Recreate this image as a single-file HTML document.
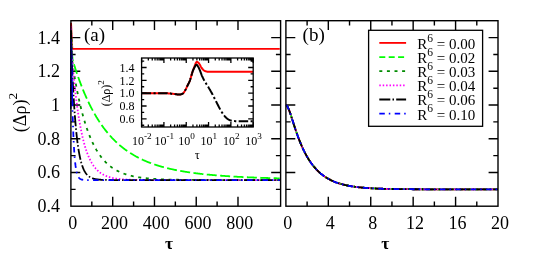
<!DOCTYPE html>
<html><head><meta charset="utf-8"><title>chart</title>
<style>html,body{margin:0;padding:0;background:#fff;}body{width:545px;height:260px;overflow:hidden;font-family:"Liberation Serif",serif;}svg{display:block;will-change:transform;}</style></head>
<body>
<svg width="545" height="260" viewBox="0 0 545 260" font-family='"Liberation Serif", serif' fill="#000">
<rect x="0" y="0" width="545" height="260" fill="#fff"/>
<defs>
<clipPath id="ca"><rect x="70.15" y="20.7" width="210.45000000000002" height="185.5"/></clipPath>
<clipPath id="cb"><rect x="285.9" y="20.7" width="212.10000000000002" height="185.5"/></clipPath>
<clipPath id="ci"><rect x="141.6" y="58.0" width="111.6" height="69.0"/></clipPath>
</defs>
<path d="M112.71 206.2 v-9.4 M112.71 20.7 v9.4 M154.47 206.2 v-9.4 M154.47 20.7 v9.4 M196.23 206.2 v-9.4 M196.23 20.7 v9.4 M237.99 206.2 v-9.4 M237.99 20.7 v9.4 M91.83 206.2 v-4.7 M91.83 20.7 v4.7 M133.59 206.2 v-4.7 M133.59 20.7 v4.7 M175.35 206.2 v-4.7 M175.35 20.7 v4.7 M217.11 206.2 v-4.7 M217.11 20.7 v4.7 M70.9 189.34 h4.7 M280.6 189.34 h-4.7 M70.9 172.48 h9.4 M280.6 172.48 h-9.4 M70.9 155.62 h4.7 M280.6 155.62 h-4.7 M70.9 138.76 h9.4 M280.6 138.76 h-9.4 M70.9 121.90 h4.7 M280.6 121.90 h-4.7 M70.9 105.04 h9.4 M280.6 105.04 h-9.4 M70.9 88.18 h4.7 M280.6 88.18 h-4.7 M70.9 71.32 h9.4 M280.6 71.32 h-9.4 M70.9 54.46 h4.7 M280.6 54.46 h-4.7 M70.9 37.60 h9.4 M280.6 37.60 h-9.4 " fill="none" stroke="#000" stroke-width="1.4"/>
<path d="M328.32 206.2 v-9.4 M328.32 20.7 v9.4 M370.74 206.2 v-9.4 M370.74 20.7 v9.4 M413.16 206.2 v-9.4 M413.16 20.7 v9.4 M455.58 206.2 v-9.4 M455.58 20.7 v9.4 M307.11 206.2 v-4.7 M307.11 20.7 v4.7 M349.53 206.2 v-4.7 M349.53 20.7 v4.7 M391.95 206.2 v-4.7 M391.95 20.7 v4.7 M434.37 206.2 v-4.7 M434.37 20.7 v4.7 M476.79 206.2 v-4.7 M476.79 20.7 v4.7 M285.9 189.34 h4.7 M498.0 189.34 h-4.7 M285.9 172.48 h9.4 M498.0 172.48 h-9.4 M285.9 155.62 h4.7 M498.0 155.62 h-4.7 M285.9 138.76 h9.4 M498.0 138.76 h-9.4 M285.9 121.90 h4.7 M498.0 121.90 h-4.7 M285.9 105.04 h9.4 M498.0 105.04 h-9.4 M285.9 88.18 h4.7 M498.0 88.18 h-4.7 M285.9 71.32 h9.4 M498.0 71.32 h-9.4 M285.9 54.46 h4.7 M498.0 54.46 h-4.7 M285.9 37.60 h9.4 M498.0 37.60 h-9.4 " fill="none" stroke="#000" stroke-width="1.4"/>
<g clip-path="url(#ca)" fill="none" stroke-width="1.8">
<path d="M70.15 105.04 L70.15 105.04 L70.15 105.04 L70.15 105.04 L70.15 105.04 L70.15 105.04 L70.15 105.04 L70.15 105.04 L70.15 105.04 L70.15 105.04 L70.15 105.04 L70.15 105.04 L70.15 105.04 L70.15 105.04 L70.15 105.04 L70.15 105.04 L70.16 105.04 L70.16 105.04 L70.16 105.04 L70.16 105.04 L70.16 105.04 L70.16 105.04 L70.16 105.04 L70.16 105.04 L70.16 105.04 L70.16 105.04 L70.16 105.04 L70.16 105.04 L70.16 105.04 L70.16 105.04 L70.16 105.04 L70.16 105.04 L70.16 105.04 L70.17 105.05 L70.17 105.07 L70.17 105.08 L70.17 105.10 L70.17 105.12 L70.17 105.15 L70.17 105.18 L70.17 105.21 L70.18 105.25 L70.18 105.31 L70.18 105.39 L70.18 105.48 L70.18 105.59 L70.18 105.71 L70.19 105.84 L70.19 105.98 L70.19 106.12 L70.19 106.27 L70.20 106.42 L70.20 106.57 L70.20 106.72 L70.21 106.88 L70.21 107.08 L70.22 107.31 L70.22 107.56 L70.22 107.81 L70.23 108.05 L70.24 108.27 L70.24 108.46 L70.25 108.61 L70.25 108.71 L70.26 108.75 L70.27 108.64 L70.28 108.35 L70.29 107.88 L70.29 107.27 L70.31 106.54 L70.32 105.68 L70.33 103.99 L70.34 101.64 L70.35 99.18 L70.37 96.41 L70.38 93.36 L70.40 90.13 L70.42 86.83 L70.44 83.56 L70.46 80.40 L70.48 77.17 L70.51 73.55 L70.53 69.20 L70.56 64.10 L70.59 58.65 L70.63 53.23 L70.66 48.27 L70.70 43.74 L70.75 39.41 L70.79 35.24 L70.84 31.20 L70.89 26.98 L70.95 24.41 L71.01 23.03 L71.08 23.26 L71.15 24.35 L71.22 25.83 L71.30 27.84 L71.38 30.09 L71.47 32.88 L71.57 35.89 L71.66 38.69 L71.76 40.87 L71.87 42.57 L71.98 44.11 L72.09 45.43 L72.21 46.44 L72.32 47.09 L72.44 47.63 L72.56 48.09 L72.69 48.44 L72.82 48.67 L72.95 48.74 L73.08 48.78 L73.23 48.81 L73.37 48.84 L73.53 48.86 L73.70 48.88 L73.87 48.89 L74.06 48.89 L74.26 48.90 L74.29 48.90 L74.70 48.90 L75.11 48.90 L75.53 48.90 L75.94 48.90 L76.35 48.90 L76.76 48.90 L77.17 48.90 L77.58 48.90 L78.00 48.90 L78.41 48.90 L78.82 48.90 L79.23 48.90 L79.64 48.90 L80.06 48.90 L80.47 48.90 L80.88 48.90 L81.29 48.90 L81.70 48.90 L82.11 48.90 L82.53 48.90 L82.94 48.90 L83.35 48.90 L83.76 48.90 L84.17 48.90 L84.58 48.90 L85.00 48.90 L85.41 48.90 L85.82 48.90 L86.23 48.90 L86.64 48.90 L87.05 48.90 L87.47 48.90 L87.88 48.90 L88.29 48.90 L88.70 48.90 L89.11 48.90 L89.53 48.90 L89.94 48.90 L90.35 48.90 L90.76 48.90 L91.17 48.90 L91.58 48.90 L92.00 48.90 L92.41 48.90 L92.82 48.90 L93.23 48.90 L93.64 48.90 L94.05 48.90 L94.47 48.90 L94.88 48.90 L95.29 48.90 L95.70 48.90 L96.11 48.90 L96.52 48.90 L96.94 48.90 L97.35 48.90 L97.76 48.90 L98.17 48.90 L98.58 48.90 L99.00 48.90 L99.41 48.90 L99.82 48.90 L100.23 48.90 L100.64 48.90 L101.05 48.90 L101.47 48.90 L101.88 48.90 L102.29 48.90 L102.70 48.90 L103.11 48.90 L103.52 48.90 L103.94 48.90 L104.35 48.90 L104.76 48.90 L105.17 48.90 L105.58 48.90 L105.99 48.90 L106.41 48.90 L106.82 48.90 L107.23 48.90 L107.64 48.90 L108.05 48.90 L108.47 48.90 L108.88 48.90 L109.29 48.90 L109.70 48.90 L110.11 48.90 L110.52 48.90 L110.94 48.90 L111.35 48.90 L111.76 48.90 L112.17 48.90 L112.58 48.90 L112.99 48.90 L113.41 48.90 L113.82 48.90 L114.23 48.90 L114.64 48.90 L115.05 48.90 L115.46 48.90 L115.88 48.90 L116.29 48.90 L116.70 48.90 L117.11 48.90 L117.52 48.90 L117.94 48.90 L118.35 48.90 L118.76 48.90 L119.17 48.90 L119.58 48.90 L119.99 48.90 L120.41 48.90 L120.82 48.90 L121.23 48.90 L121.64 48.90 L122.05 48.90 L122.46 48.90 L122.88 48.90 L123.29 48.90 L123.70 48.90 L124.11 48.90 L124.52 48.90 L124.94 48.90 L125.35 48.90 L125.76 48.90 L126.17 48.90 L126.58 48.90 L126.99 48.90 L127.41 48.90 L127.82 48.90 L128.23 48.90 L128.64 48.90 L129.05 48.90 L129.46 48.90 L129.88 48.90 L130.29 48.90 L130.70 48.90 L131.11 48.90 L131.52 48.90 L131.93 48.90 L132.35 48.90 L132.76 48.90 L133.17 48.90 L133.58 48.90 L133.99 48.90 L134.41 48.90 L134.82 48.90 L135.23 48.90 L135.64 48.90 L136.05 48.90 L136.46 48.90 L136.88 48.90 L137.29 48.90 L137.70 48.90 L138.11 48.90 L138.52 48.90 L138.93 48.90 L139.35 48.90 L139.76 48.90 L140.17 48.90 L140.58 48.90 L140.99 48.90 L141.40 48.90 L141.82 48.90 L142.23 48.90 L142.64 48.90 L143.05 48.90 L143.46 48.90 L143.88 48.90 L144.29 48.90 L144.70 48.90 L145.11 48.90 L145.52 48.90 L145.93 48.90 L146.35 48.90 L146.76 48.90 L147.17 48.90 L147.58 48.90 L147.99 48.90 L148.40 48.90 L148.82 48.90 L149.23 48.90 L149.64 48.90 L150.05 48.90 L150.46 48.90 L150.87 48.90 L151.29 48.90 L151.70 48.90 L152.11 48.90 L152.52 48.90 L152.93 48.90 L153.35 48.90 L153.76 48.90 L154.17 48.90 L154.58 48.90 L154.99 48.90 L155.40 48.90 L155.82 48.90 L156.23 48.90 L156.64 48.90 L157.05 48.90 L157.46 48.90 L157.87 48.90 L158.29 48.90 L158.70 48.90 L159.11 48.90 L159.52 48.90 L159.93 48.90 L160.34 48.90 L160.76 48.90 L161.17 48.90 L161.58 48.90 L161.99 48.90 L162.40 48.90 L162.82 48.90 L163.23 48.90 L163.64 48.90 L164.05 48.90 L164.46 48.90 L164.87 48.90 L165.29 48.90 L165.70 48.90 L166.11 48.90 L166.52 48.90 L166.93 48.90 L167.34 48.90 L167.76 48.90 L168.17 48.90 L168.58 48.90 L168.99 48.90 L169.40 48.90 L169.81 48.90 L170.23 48.90 L170.64 48.90 L171.05 48.90 L171.46 48.90 L171.87 48.90 L172.29 48.90 L172.70 48.90 L173.11 48.90 L173.52 48.90 L173.93 48.90 L174.34 48.90 L174.76 48.90 L175.17 48.90 L175.58 48.90 L175.99 48.90 L176.40 48.90 L176.81 48.90 L177.23 48.90 L177.64 48.90 L178.05 48.90 L178.46 48.90 L178.87 48.90 L179.28 48.90 L179.70 48.90 L180.11 48.90 L180.52 48.90 L180.93 48.90 L181.34 48.90 L181.76 48.90 L182.17 48.90 L182.58 48.90 L182.99 48.90 L183.40 48.90 L183.81 48.90 L184.23 48.90 L184.64 48.90 L185.05 48.90 L185.46 48.90 L185.87 48.90 L186.28 48.90 L186.70 48.90 L187.11 48.90 L187.52 48.90 L187.93 48.90 L188.34 48.90 L188.76 48.90 L189.17 48.90 L189.58 48.90 L189.99 48.90 L190.40 48.90 L190.81 48.90 L191.23 48.90 L191.64 48.90 L192.05 48.90 L192.46 48.90 L192.87 48.90 L193.28 48.90 L193.70 48.90 L194.11 48.90 L194.52 48.90 L194.93 48.90 L195.34 48.90 L195.75 48.90 L196.17 48.90 L196.58 48.90 L196.99 48.90 L197.40 48.90 L197.81 48.90 L198.23 48.90 L198.64 48.90 L199.05 48.90 L199.46 48.90 L199.87 48.90 L200.28 48.90 L200.70 48.90 L201.11 48.90 L201.52 48.90 L201.93 48.90 L202.34 48.90 L202.75 48.90 L203.17 48.90 L203.58 48.90 L203.99 48.90 L204.40 48.90 L204.81 48.90 L205.22 48.90 L205.64 48.90 L206.05 48.90 L206.46 48.90 L206.87 48.90 L207.28 48.90 L207.70 48.90 L208.11 48.90 L208.52 48.90 L208.93 48.90 L209.34 48.90 L209.75 48.90 L210.17 48.90 L210.58 48.90 L210.99 48.90 L211.40 48.90 L211.81 48.90 L212.22 48.90 L212.64 48.90 L213.05 48.90 L213.46 48.90 L213.87 48.90 L214.28 48.90 L214.69 48.90 L215.11 48.90 L215.52 48.90 L215.93 48.90 L216.34 48.90 L216.75 48.90 L217.17 48.90 L217.58 48.90 L217.99 48.90 L218.40 48.90 L218.81 48.90 L219.22 48.90 L219.64 48.90 L220.05 48.90 L220.46 48.90 L220.87 48.90 L221.28 48.90 L221.69 48.90 L222.11 48.90 L222.52 48.90 L222.93 48.90 L223.34 48.90 L223.75 48.90 L224.16 48.90 L224.58 48.90 L224.99 48.90 L225.40 48.90 L225.81 48.90 L226.22 48.90 L226.64 48.90 L227.05 48.90 L227.46 48.90 L227.87 48.90 L228.28 48.90 L228.69 48.90 L229.11 48.90 L229.52 48.90 L229.93 48.90 L230.34 48.90 L230.75 48.90 L231.16 48.90 L231.58 48.90 L231.99 48.90 L232.40 48.90 L232.81 48.90 L233.22 48.90 L233.63 48.90 L234.05 48.90 L234.46 48.90 L234.87 48.90 L235.28 48.90 L235.69 48.90 L236.11 48.90 L236.52 48.90 L236.93 48.90 L237.34 48.90 L237.75 48.90 L238.16 48.90 L238.58 48.90 L238.99 48.90 L239.40 48.90 L239.81 48.90 L240.22 48.90 L240.63 48.90 L241.05 48.90 L241.46 48.90 L241.87 48.90 L242.28 48.90 L242.69 48.90 L243.10 48.90 L243.52 48.90 L243.93 48.90 L244.34 48.90 L244.75 48.90 L245.16 48.90 L245.58 48.90 L245.99 48.90 L246.40 48.90 L246.81 48.90 L247.22 48.90 L247.63 48.90 L248.05 48.90 L248.46 48.90 L248.87 48.90 L249.28 48.90 L249.69 48.90 L250.10 48.90 L250.52 48.90 L250.93 48.90 L251.34 48.90 L251.75 48.90 L252.16 48.90 L252.58 48.90 L252.99 48.90 L253.40 48.90 L253.81 48.90 L254.22 48.90 L254.63 48.90 L255.05 48.90 L255.46 48.90 L255.87 48.90 L256.28 48.90 L256.69 48.90 L257.10 48.90 L257.52 48.90 L257.93 48.90 L258.34 48.90 L258.75 48.90 L259.16 48.90 L259.57 48.90 L259.99 48.90 L260.40 48.90 L260.81 48.90 L261.22 48.90 L261.63 48.90 L262.05 48.90 L262.46 48.90 L262.87 48.90 L263.28 48.90 L263.69 48.90 L264.10 48.90 L264.52 48.90 L264.93 48.90 L265.34 48.90 L265.75 48.90 L266.16 48.90 L266.57 48.90 L266.99 48.90 L267.40 48.90 L267.81 48.90 L268.22 48.90 L268.63 48.90 L269.04 48.90 L269.46 48.90 L269.87 48.90 L270.28 48.90 L270.69 48.90 L271.10 48.90 L271.52 48.90 L271.93 48.90 L272.34 48.90 L272.75 48.90 L273.16 48.90 L273.57 48.90 L273.99 48.90 L274.40 48.90 L274.81 48.90 L275.22 48.90 L275.63 48.90 L276.04 48.90 L276.46 48.90 L276.87 48.90 L277.28 48.90 L277.69 48.90 L278.10 48.90 L278.51 48.90 L278.93 48.90 L279.34 48.90 L279.75 48.90" stroke="#ff0000"/>
<path d="M70.15 105.04 L70.15 105.05 L70.15 105.05 L70.15 105.05 L70.15 105.05 L70.15 105.05 L70.15 105.05 L70.15 105.05 L70.15 105.06 L70.15 105.06 L70.15 105.06 L70.15 105.06 L70.15 105.06 L70.15 105.06 L70.15 105.06 L70.15 105.06 L70.16 105.07 L70.16 105.07 L70.16 105.07 L70.16 105.07 L70.16 105.07 L70.16 105.07 L70.16 105.08 L70.16 105.08 L70.16 105.08 L70.16 105.08 L70.16 105.09 L70.16 105.09 L70.16 105.09 L70.16 105.10 L70.16 105.10 L70.16 105.10 L70.16 105.11 L70.17 105.12 L70.17 105.14 L70.17 105.16 L70.17 105.19 L70.17 105.22 L70.17 105.25 L70.17 105.28 L70.17 105.32 L70.18 105.37 L70.18 105.43 L70.18 105.52 L70.18 105.62 L70.18 105.74 L70.18 105.87 L70.19 106.01 L70.19 106.16 L70.19 106.32 L70.19 106.48 L70.20 106.64 L70.20 106.80 L70.20 106.96 L70.21 107.14 L70.21 107.36 L70.22 107.60 L70.22 107.86 L70.22 108.13 L70.23 108.39 L70.24 108.63 L70.24 108.85 L70.25 109.03 L70.25 109.15 L70.26 109.21 L70.27 109.14 L70.28 108.87 L70.29 108.45 L70.29 107.87 L70.31 107.19 L70.32 106.38 L70.33 104.74 L70.34 102.47 L70.35 100.09 L70.37 97.41 L70.38 94.45 L70.40 91.33 L70.42 88.15 L70.44 85.02 L70.46 82.00 L70.48 78.91 L70.51 75.47 L70.53 71.32 L70.56 66.45 L70.59 61.25 L70.63 56.12 L70.66 51.44 L70.70 47.22 L70.75 43.20 L70.79 39.37 L70.84 35.70 L70.89 31.86 L70.95 29.65 L71.01 28.62 L71.08 29.15 L71.15 30.52 L71.22 32.27 L71.30 34.53 L71.38 37.04 L71.47 40.05 L71.57 43.28 L71.66 46.30 L71.76 48.73 L71.87 50.72 L71.98 52.57 L72.09 54.20 L72.21 55.56 L72.32 56.59 L72.44 57.52 L72.56 58.39 L72.69 59.17 L72.82 59.85 L72.95 60.40 L73.08 60.94 L73.23 61.49 L73.37 62.05 L73.53 62.63 L73.70 63.22 L73.87 63.84 L74.06 64.48 L74.26 65.14 L74.29 65.25 L74.70 66.59 L75.11 67.89 L75.53 69.17 L75.94 70.44 L76.35 71.68 L76.76 72.91 L77.17 74.12 L77.58 75.31 L78.00 76.49 L78.41 77.66 L78.82 78.81 L79.23 79.95 L79.64 81.08 L80.06 82.19 L80.47 83.29 L80.88 84.37 L81.29 85.44 L81.70 86.50 L82.11 87.54 L82.53 88.58 L82.94 89.60 L83.35 90.60 L83.76 91.60 L84.17 92.58 L84.58 93.55 L85.00 94.51 L85.41 95.46 L85.82 96.40 L86.23 97.32 L86.64 98.24 L87.05 99.14 L87.47 100.03 L87.88 100.92 L88.29 101.79 L88.70 102.65 L89.11 103.50 L89.53 104.34 L89.94 105.17 L90.35 105.99 L90.76 106.80 L91.17 107.60 L91.58 108.39 L92.00 109.17 L92.41 109.94 L92.82 110.71 L93.23 111.46 L93.64 112.21 L94.05 112.94 L94.47 113.67 L94.88 114.39 L95.29 115.10 L95.70 115.80 L96.11 116.49 L96.52 117.18 L96.94 117.85 L97.35 118.52 L97.76 119.18 L98.17 119.84 L98.58 120.48 L99.00 121.12 L99.41 121.75 L99.82 122.37 L100.23 122.99 L100.64 123.60 L101.05 124.20 L101.47 124.79 L101.88 125.38 L102.29 125.96 L102.70 126.53 L103.11 127.10 L103.52 127.66 L103.94 128.21 L104.35 128.76 L104.76 129.30 L105.17 129.83 L105.58 130.36 L105.99 130.88 L106.41 131.40 L106.82 131.91 L107.23 132.41 L107.64 132.91 L108.05 133.40 L108.47 133.89 L108.88 134.37 L109.29 134.84 L109.70 135.31 L110.11 135.77 L110.52 136.23 L110.94 136.69 L111.35 137.13 L111.76 137.58 L112.17 138.01 L112.58 138.45 L112.99 138.87 L113.41 139.30 L113.82 139.71 L114.23 140.13 L114.64 140.54 L115.05 140.94 L115.46 141.34 L115.88 141.73 L116.29 142.12 L116.70 142.51 L117.11 142.89 L117.52 143.27 L117.94 143.64 L118.35 144.01 L118.76 144.37 L119.17 144.73 L119.58 145.08 L119.99 145.44 L120.41 145.78 L120.82 146.13 L121.23 146.47 L121.64 146.80 L122.05 147.13 L122.46 147.46 L122.88 147.79 L123.29 148.11 L123.70 148.43 L124.11 148.74 L124.52 149.05 L124.94 149.36 L125.35 149.66 L125.76 149.96 L126.17 150.26 L126.58 150.55 L126.99 150.84 L127.41 151.12 L127.82 151.41 L128.23 151.69 L128.64 151.96 L129.05 152.24 L129.46 152.51 L129.88 152.78 L130.29 153.04 L130.70 153.30 L131.11 153.56 L131.52 153.82 L131.93 154.07 L132.35 154.32 L132.76 154.57 L133.17 154.82 L133.58 155.06 L133.99 155.30 L134.41 155.53 L134.82 155.77 L135.23 156.00 L135.64 156.23 L136.05 156.46 L136.46 156.68 L136.88 156.90 L137.29 157.12 L137.70 157.34 L138.11 157.55 L138.52 157.77 L138.93 157.98 L139.35 158.18 L139.76 158.39 L140.17 158.59 L140.58 158.79 L140.99 158.99 L141.40 159.19 L141.82 159.38 L142.23 159.58 L142.64 159.77 L143.05 159.95 L143.46 160.14 L143.88 160.32 L144.29 160.51 L144.70 160.69 L145.11 160.87 L145.52 161.04 L145.93 161.22 L146.35 161.39 L146.76 161.56 L147.17 161.73 L147.58 161.90 L147.99 162.06 L148.40 162.23 L148.82 162.39 L149.23 162.55 L149.64 162.71 L150.05 162.86 L150.46 163.02 L150.87 163.17 L151.29 163.32 L151.70 163.47 L152.11 163.62 L152.52 163.77 L152.93 163.92 L153.35 164.06 L153.76 164.20 L154.17 164.34 L154.58 164.48 L154.99 164.62 L155.40 164.76 L155.82 164.89 L156.23 165.03 L156.64 165.16 L157.05 165.29 L157.46 165.42 L157.87 165.55 L158.29 165.68 L158.70 165.80 L159.11 165.93 L159.52 166.05 L159.93 166.17 L160.34 166.29 L160.76 166.41 L161.17 166.53 L161.58 166.65 L161.99 166.77 L162.40 166.88 L162.82 166.99 L163.23 167.11 L163.64 167.22 L164.05 167.33 L164.46 167.44 L164.87 167.54 L165.29 167.65 L165.70 167.76 L166.11 167.86 L166.52 167.97 L166.93 168.07 L167.34 168.17 L167.76 168.27 L168.17 168.37 L168.58 168.47 L168.99 168.57 L169.40 168.66 L169.81 168.76 L170.23 168.85 L170.64 168.95 L171.05 169.04 L171.46 169.13 L171.87 169.22 L172.29 169.31 L172.70 169.40 L173.11 169.49 L173.52 169.58 L173.93 169.66 L174.34 169.75 L174.76 169.83 L175.17 169.92 L175.58 170.00 L175.99 170.08 L176.40 170.17 L176.81 170.25 L177.23 170.33 L177.64 170.41 L178.05 170.49 L178.46 170.56 L178.87 170.64 L179.28 170.72 L179.70 170.79 L180.11 170.87 L180.52 170.94 L180.93 171.01 L181.34 171.09 L181.76 171.16 L182.17 171.23 L182.58 171.30 L182.99 171.37 L183.40 171.44 L183.81 171.51 L184.23 171.58 L184.64 171.64 L185.05 171.71 L185.46 171.78 L185.87 171.84 L186.28 171.91 L186.70 171.97 L187.11 172.04 L187.52 172.10 L187.93 172.16 L188.34 172.22 L188.76 172.28 L189.17 172.35 L189.58 172.41 L189.99 172.46 L190.40 172.52 L190.81 172.58 L191.23 172.64 L191.64 172.70 L192.05 172.75 L192.46 172.81 L192.87 172.87 L193.28 172.92 L193.70 172.98 L194.11 173.03 L194.52 173.09 L194.93 173.14 L195.34 173.19 L195.75 173.24 L196.17 173.30 L196.58 173.35 L196.99 173.40 L197.40 173.45 L197.81 173.50 L198.23 173.55 L198.64 173.60 L199.05 173.65 L199.46 173.70 L199.87 173.74 L200.28 173.79 L200.70 173.84 L201.11 173.88 L201.52 173.93 L201.93 173.98 L202.34 174.02 L202.75 174.07 L203.17 174.11 L203.58 174.16 L203.99 174.20 L204.40 174.24 L204.81 174.29 L205.22 174.33 L205.64 174.37 L206.05 174.41 L206.46 174.45 L206.87 174.50 L207.28 174.54 L207.70 174.58 L208.11 174.62 L208.52 174.66 L208.93 174.70 L209.34 174.74 L209.75 174.77 L210.17 174.81 L210.58 174.85 L210.99 174.89 L211.40 174.93 L211.81 174.96 L212.22 175.00 L212.64 175.04 L213.05 175.07 L213.46 175.11 L213.87 175.14 L214.28 175.18 L214.69 175.21 L215.11 175.25 L215.52 175.28 L215.93 175.32 L216.34 175.35 L216.75 175.39 L217.17 175.42 L217.58 175.45 L217.99 175.48 L218.40 175.52 L218.81 175.55 L219.22 175.58 L219.64 175.61 L220.05 175.64 L220.46 175.67 L220.87 175.71 L221.28 175.74 L221.69 175.77 L222.11 175.80 L222.52 175.83 L222.93 175.86 L223.34 175.89 L223.75 175.91 L224.16 175.94 L224.58 175.97 L224.99 176.00 L225.40 176.03 L225.81 176.06 L226.22 176.08 L226.64 176.11 L227.05 176.14 L227.46 176.17 L227.87 176.19 L228.28 176.22 L228.69 176.25 L229.11 176.27 L229.52 176.30 L229.93 176.32 L230.34 176.35 L230.75 176.38 L231.16 176.40 L231.58 176.43 L231.99 176.45 L232.40 176.48 L232.81 176.50 L233.22 176.52 L233.63 176.55 L234.05 176.57 L234.46 176.60 L234.87 176.62 L235.28 176.64 L235.69 176.67 L236.11 176.69 L236.52 176.71 L236.93 176.73 L237.34 176.76 L237.75 176.78 L238.16 176.80 L238.58 176.82 L238.99 176.84 L239.40 176.86 L239.81 176.89 L240.22 176.91 L240.63 176.93 L241.05 176.95 L241.46 176.97 L241.87 176.99 L242.28 177.01 L242.69 177.03 L243.10 177.05 L243.52 177.07 L243.93 177.09 L244.34 177.11 L244.75 177.13 L245.16 177.15 L245.58 177.17 L245.99 177.19 L246.40 177.21 L246.81 177.23 L247.22 177.24 L247.63 177.26 L248.05 177.28 L248.46 177.30 L248.87 177.32 L249.28 177.34 L249.69 177.35 L250.10 177.37 L250.52 177.39 L250.93 177.41 L251.34 177.42 L251.75 177.44 L252.16 177.46 L252.58 177.47 L252.99 177.49 L253.40 177.51 L253.81 177.52 L254.22 177.54 L254.63 177.56 L255.05 177.57 L255.46 177.59 L255.87 177.61 L256.28 177.62 L256.69 177.64 L257.10 177.65 L257.52 177.67 L257.93 177.68 L258.34 177.70 L258.75 177.71 L259.16 177.73 L259.57 177.74 L259.99 177.76 L260.40 177.77 L260.81 177.79 L261.22 177.80 L261.63 177.82 L262.05 177.83 L262.46 177.85 L262.87 177.86 L263.28 177.87 L263.69 177.89 L264.10 177.90 L264.52 177.91 L264.93 177.93 L265.34 177.94 L265.75 177.96 L266.16 177.97 L266.57 177.98 L266.99 177.99 L267.40 178.01 L267.81 178.02 L268.22 178.03 L268.63 178.05 L269.04 178.06 L269.46 178.07 L269.87 178.08 L270.28 178.10 L270.69 178.11 L271.10 178.12 L271.52 178.13 L271.93 178.15 L272.34 178.16 L272.75 178.17 L273.16 178.18 L273.57 178.19 L273.99 178.20 L274.40 178.22 L274.81 178.23 L275.22 178.24 L275.63 178.25 L276.04 178.26 L276.46 178.27 L276.87 178.28 L277.28 178.30 L277.69 178.31 L278.10 178.32 L278.51 178.33 L278.93 178.34 L279.34 178.35 L279.75 178.36" stroke="#00ff00" stroke-dasharray="10 3.4"/>
<path d="M70.15 105.04 L70.15 105.05 L70.15 105.06 L70.15 105.06 L70.15 105.06 L70.15 105.06 L70.15 105.06 L70.15 105.06 L70.15 105.06 L70.15 105.06 L70.15 105.07 L70.15 105.07 L70.15 105.07 L70.15 105.07 L70.15 105.07 L70.15 105.07 L70.16 105.08 L70.16 105.08 L70.16 105.08 L70.16 105.08 L70.16 105.09 L70.16 105.09 L70.16 105.09 L70.16 105.10 L70.16 105.10 L70.16 105.10 L70.16 105.11 L70.16 105.11 L70.16 105.12 L70.16 105.12 L70.16 105.13 L70.16 105.13 L70.16 105.14 L70.17 105.16 L70.17 105.18 L70.17 105.20 L70.17 105.23 L70.17 105.26 L70.17 105.29 L70.17 105.33 L70.17 105.37 L70.18 105.42 L70.18 105.49 L70.18 105.58 L70.18 105.69 L70.18 105.81 L70.18 105.94 L70.19 106.09 L70.19 106.24 L70.19 106.40 L70.19 106.56 L70.20 106.73 L70.20 106.90 L70.20 107.06 L70.21 107.25 L70.21 107.47 L70.22 107.72 L70.22 107.99 L70.22 108.26 L70.23 108.53 L70.24 108.78 L70.24 109.00 L70.25 109.18 L70.25 109.31 L70.26 109.38 L70.27 109.32 L70.28 109.06 L70.29 108.64 L70.29 108.08 L70.31 107.40 L70.32 106.60 L70.33 104.99 L70.34 102.72 L70.35 100.36 L70.37 97.70 L70.38 94.76 L70.40 91.66 L70.42 88.50 L70.44 85.38 L70.46 82.38 L70.48 79.31 L70.51 75.89 L70.53 71.75 L70.56 66.89 L70.59 61.70 L70.63 56.58 L70.66 51.90 L70.70 47.74 L70.75 43.92 L70.79 40.29 L70.84 36.84 L70.89 33.24 L70.95 31.27 L71.01 30.47 L71.08 31.22 L71.15 32.81 L71.22 34.77 L71.30 37.23 L71.38 39.93 L71.47 43.13 L71.57 46.52 L71.66 49.73 L71.76 52.35 L71.87 54.54 L71.98 56.59 L72.09 58.44 L72.21 60.03 L72.32 61.32 L72.44 62.51 L72.56 63.67 L72.69 64.75 L72.82 65.75 L72.95 66.65 L73.08 67.55 L73.23 68.48 L73.37 69.45 L73.53 70.46 L73.70 71.51 L73.87 72.61 L74.06 73.76 L74.26 74.95 L74.29 75.14 L74.70 77.56 L75.11 79.92 L75.53 82.22 L75.94 84.46 L76.35 86.66 L76.76 88.80 L77.17 90.89 L77.58 92.94 L78.00 94.94 L78.41 96.89 L78.82 98.80 L79.23 100.66 L79.64 102.48 L80.06 104.26 L80.47 106.00 L80.88 107.70 L81.29 109.36 L81.70 110.98 L82.11 112.56 L82.53 114.11 L82.94 115.62 L83.35 117.10 L83.76 118.55 L84.17 119.96 L84.58 121.33 L85.00 122.68 L85.41 124.00 L85.82 125.28 L86.23 126.54 L86.64 127.77 L87.05 128.97 L87.47 130.14 L87.88 131.28 L88.29 132.40 L88.70 133.50 L89.11 134.56 L89.53 135.61 L89.94 136.63 L90.35 137.62 L90.76 138.60 L91.17 139.55 L91.58 140.48 L92.00 141.38 L92.41 142.27 L92.82 143.14 L93.23 143.98 L93.64 144.81 L94.05 145.62 L94.47 146.41 L94.88 147.18 L95.29 147.94 L95.70 148.67 L96.11 149.39 L96.52 150.10 L96.94 150.78 L97.35 151.46 L97.76 152.11 L98.17 152.75 L98.58 153.38 L99.00 153.99 L99.41 154.59 L99.82 155.17 L100.23 155.74 L100.64 156.30 L101.05 156.85 L101.47 157.38 L101.88 157.90 L102.29 158.41 L102.70 158.90 L103.11 159.39 L103.52 159.86 L103.94 160.33 L104.35 160.78 L104.76 161.22 L105.17 161.65 L105.58 162.08 L105.99 162.49 L106.41 162.89 L106.82 163.29 L107.23 163.67 L107.64 164.05 L108.05 164.41 L108.47 164.77 L108.88 165.12 L109.29 165.47 L109.70 165.80 L110.11 166.13 L110.52 166.45 L110.94 166.76 L111.35 167.07 L111.76 167.36 L112.17 167.66 L112.58 167.94 L112.99 168.22 L113.41 168.49 L113.82 168.76 L114.23 169.01 L114.64 169.27 L115.05 169.52 L115.46 169.76 L115.88 169.99 L116.29 170.23 L116.70 170.45 L117.11 170.67 L117.52 170.89 L117.94 171.10 L118.35 171.30 L118.76 171.50 L119.17 171.70 L119.58 171.89 L119.99 172.08 L120.41 172.26 L120.82 172.44 L121.23 172.62 L121.64 172.79 L122.05 172.95 L122.46 173.12 L122.88 173.28 L123.29 173.43 L123.70 173.58 L124.11 173.73 L124.52 173.88 L124.94 174.02 L125.35 174.16 L125.76 174.29 L126.17 174.43 L126.58 174.56 L126.99 174.68 L127.41 174.81 L127.82 174.93 L128.23 175.04 L128.64 175.16 L129.05 175.27 L129.46 175.38 L129.88 175.49 L130.29 175.59 L130.70 175.70 L131.11 175.80 L131.52 175.90 L131.93 175.99 L132.35 176.08 L132.76 176.18 L133.17 176.27 L133.58 176.35 L133.99 176.44 L134.41 176.52 L134.82 176.60 L135.23 176.68 L135.64 176.76 L136.05 176.84 L136.46 176.91 L136.88 176.98 L137.29 177.05 L137.70 177.12 L138.11 177.19 L138.52 177.26 L138.93 177.32 L139.35 177.38 L139.76 177.44 L140.17 177.50 L140.58 177.56 L140.99 177.62 L141.40 177.68 L141.82 177.73 L142.23 177.78 L142.64 177.84 L143.05 177.89 L143.46 177.94 L143.88 177.99 L144.29 178.03 L144.70 178.08 L145.11 178.13 L145.52 178.17 L145.93 178.21 L146.35 178.26 L146.76 178.30 L147.17 178.34 L147.58 178.38 L147.99 178.42 L148.40 178.46 L148.82 178.49 L149.23 178.53 L149.64 178.56 L150.05 178.60 L150.46 178.63 L150.87 178.67 L151.29 178.70 L151.70 178.73 L152.11 178.76 L152.52 178.79 L152.93 178.82 L153.35 178.85 L153.76 178.88 L154.17 178.90 L154.58 178.93 L154.99 178.96 L155.40 178.98 L155.82 179.01 L156.23 179.03 L156.64 179.05 L157.05 179.08 L157.46 179.10 L157.87 179.12 L158.29 179.14 L158.70 179.16 L159.11 179.19 L159.52 179.21 L159.93 179.23 L160.34 179.24 L160.76 179.26 L161.17 179.28 L161.58 179.30 L161.99 179.32 L162.40 179.33 L162.82 179.35 L163.23 179.37 L163.64 179.38 L164.05 179.40 L164.46 179.41 L164.87 179.43 L165.29 179.44 L165.70 179.46 L166.11 179.47 L166.52 179.49 L166.93 179.50 L167.34 179.51 L167.76 179.53 L168.17 179.54 L168.58 179.55 L168.99 179.56 L169.40 179.57 L169.81 179.58 L170.23 179.60 L170.64 179.61 L171.05 179.62 L171.46 179.63 L171.87 179.64 L172.29 179.65 L172.70 179.66 L173.11 179.67 L173.52 179.68 L173.93 179.68 L174.34 179.69 L174.76 179.70 L175.17 179.71 L175.58 179.72 L175.99 179.73 L176.40 179.73 L176.81 179.74 L177.23 179.75 L177.64 179.76 L178.05 179.76 L178.46 179.77 L178.87 179.78 L179.28 179.78 L179.70 179.79 L180.11 179.80 L180.52 179.80 L180.93 179.81 L181.34 179.82 L181.76 179.82 L182.17 179.83 L182.58 179.83 L182.99 179.84 L183.40 179.84 L183.81 179.85 L184.23 179.85 L184.64 179.86 L185.05 179.86 L185.46 179.87 L185.87 179.87 L186.28 179.88 L186.70 179.88 L187.11 179.88 L187.52 179.89 L187.93 179.89 L188.34 179.90 L188.76 179.90 L189.17 179.90 L189.58 179.91 L189.99 179.91 L190.40 179.92 L190.81 179.92 L191.23 179.92 L191.64 179.93 L192.05 179.93 L192.46 179.93 L192.87 179.94 L193.28 179.94 L193.70 179.94 L194.11 179.94 L194.52 179.95 L194.93 179.95 L195.34 179.95 L195.75 179.96 L196.17 179.96 L196.58 179.96 L196.99 179.96 L197.40 179.97 L197.81 179.97 L198.23 179.97 L198.64 179.97 L199.05 179.97 L199.46 179.98 L199.87 179.98 L200.28 179.98 L200.70 179.98 L201.11 179.98 L201.52 179.99 L201.93 179.99 L202.34 179.99 L202.75 179.99 L203.17 179.99 L203.58 180.00 L203.99 180.00 L204.40 180.00 L204.81 180.00 L205.22 180.00 L205.64 180.00 L206.05 180.00 L206.46 180.01 L206.87 180.01 L207.28 180.01 L207.70 180.01 L208.11 180.01 L208.52 180.01 L208.93 180.01 L209.34 180.01 L209.75 180.02 L210.17 180.02 L210.58 180.02 L210.99 180.02 L211.40 180.02 L211.81 180.02 L212.22 180.02 L212.64 180.02 L213.05 180.02 L213.46 180.03 L213.87 180.03 L214.28 180.03 L214.69 180.03 L215.11 180.03 L215.52 180.03 L215.93 180.03 L216.34 180.03 L216.75 180.03 L217.17 180.03 L217.58 180.03 L217.99 180.04 L218.40 180.04 L218.81 180.04 L219.22 180.04 L219.64 180.04 L220.05 180.04 L220.46 180.04 L220.87 180.04 L221.28 180.04 L221.69 180.04 L222.11 180.04 L222.52 180.04 L222.93 180.04 L223.34 180.04 L223.75 180.04 L224.16 180.04 L224.58 180.04 L224.99 180.05 L225.40 180.05 L225.81 180.05 L226.22 180.05 L226.64 180.05 L227.05 180.05 L227.46 180.05 L227.87 180.05 L228.28 180.05 L228.69 180.05 L229.11 180.05 L229.52 180.05 L229.93 180.05 L230.34 180.05 L230.75 180.05 L231.16 180.05 L231.58 180.05 L231.99 180.05 L232.40 180.05 L232.81 180.05 L233.22 180.05 L233.63 180.05 L234.05 180.05 L234.46 180.05 L234.87 180.05 L235.28 180.05 L235.69 180.06 L236.11 180.06 L236.52 180.06 L236.93 180.06 L237.34 180.06 L237.75 180.06 L238.16 180.06 L238.58 180.06 L238.99 180.06 L239.40 180.06 L239.81 180.06 L240.22 180.06 L240.63 180.06 L241.05 180.06 L241.46 180.06 L241.87 180.06 L242.28 180.06 L242.69 180.06 L243.10 180.06 L243.52 180.06 L243.93 180.06 L244.34 180.06 L244.75 180.06 L245.16 180.06 L245.58 180.06 L245.99 180.06 L246.40 180.06 L246.81 180.06 L247.22 180.06 L247.63 180.06 L248.05 180.06 L248.46 180.06 L248.87 180.06 L249.28 180.06 L249.69 180.06 L250.10 180.06 L250.52 180.06 L250.93 180.06 L251.34 180.06 L251.75 180.06 L252.16 180.06 L252.58 180.06 L252.99 180.06 L253.40 180.06 L253.81 180.06 L254.22 180.06 L254.63 180.06 L255.05 180.06 L255.46 180.06 L255.87 180.06 L256.28 180.06 L256.69 180.06 L257.10 180.06 L257.52 180.06 L257.93 180.06 L258.34 180.06 L258.75 180.06 L259.16 180.06 L259.57 180.06 L259.99 180.06 L260.40 180.06 L260.81 180.06 L261.22 180.06 L261.63 180.06 L262.05 180.06 L262.46 180.06 L262.87 180.06 L263.28 180.06 L263.69 180.06 L264.10 180.06 L264.52 180.06 L264.93 180.06 L265.34 180.06 L265.75 180.06 L266.16 180.06 L266.57 180.06 L266.99 180.06 L267.40 180.07 L267.81 180.07 L268.22 180.07 L268.63 180.07 L269.04 180.07 L269.46 180.07 L269.87 180.07 L270.28 180.07 L270.69 180.07 L271.10 180.07 L271.52 180.07 L271.93 180.07 L272.34 180.07 L272.75 180.07 L273.16 180.07 L273.57 180.07 L273.99 180.07 L274.40 180.07 L274.81 180.07 L275.22 180.07 L275.63 180.07 L276.04 180.07 L276.46 180.07 L276.87 180.07 L277.28 180.07 L277.69 180.07 L278.10 180.07 L278.51 180.07 L278.93 180.07 L279.34 180.07 L279.75 180.07" stroke="#008b00" stroke-dasharray="3 4.6"/>
<path d="M70.15 105.04 L70.15 105.04 L70.15 105.04 L70.15 105.04 L70.15 105.04 L70.15 105.04 L70.15 105.04 L70.15 105.04 L70.15 105.04 L70.15 105.04 L70.15 105.04 L70.15 105.04 L70.15 105.04 L70.15 105.04 L70.15 105.04 L70.15 105.04 L70.16 105.04 L70.16 105.04 L70.16 105.04 L70.16 105.04 L70.16 105.04 L70.16 105.04 L70.16 105.04 L70.16 105.04 L70.16 105.04 L70.16 105.04 L70.16 105.04 L70.16 105.04 L70.16 105.04 L70.16 105.04 L70.16 105.04 L70.16 105.04 L70.16 105.04 L70.17 105.05 L70.17 105.07 L70.17 105.08 L70.17 105.10 L70.17 105.12 L70.17 105.15 L70.17 105.18 L70.17 105.21 L70.18 105.25 L70.18 105.31 L70.18 105.39 L70.18 105.48 L70.18 105.59 L70.18 105.71 L70.19 105.84 L70.19 105.98 L70.19 106.12 L70.19 106.27 L70.20 106.42 L70.20 106.57 L70.20 106.72 L70.21 106.88 L70.21 107.08 L70.22 107.31 L70.22 107.56 L70.22 107.81 L70.23 108.05 L70.24 108.27 L70.24 108.46 L70.25 108.61 L70.25 108.71 L70.26 108.75 L70.27 108.64 L70.28 108.35 L70.29 107.88 L70.29 107.27 L70.31 106.54 L70.32 105.68 L70.33 103.99 L70.34 101.64 L70.35 99.18 L70.37 96.41 L70.38 93.36 L70.40 90.13 L70.42 86.83 L70.44 83.56 L70.46 80.40 L70.48 77.17 L70.51 73.55 L70.53 69.20 L70.56 64.10 L70.59 58.65 L70.63 53.23 L70.66 48.27 L70.70 43.89 L70.75 39.95 L70.79 36.21 L70.84 32.66 L70.89 28.98 L70.95 26.98 L71.01 26.20 L71.08 27.03 L71.15 28.74 L71.22 30.84 L71.30 33.49 L71.38 36.39 L71.47 39.82 L71.57 43.47 L71.66 46.95 L71.76 49.84 L71.87 52.32 L71.98 54.68 L72.09 56.87 L72.21 58.81 L72.32 60.46 L72.44 62.06 L72.56 63.65 L72.69 65.19 L72.82 66.68 L72.95 68.11 L73.08 69.57 L73.23 71.09 L73.37 72.69 L73.53 74.36 L73.70 76.10 L73.87 77.91 L74.06 79.80 L74.26 81.77 L74.29 82.08 L74.70 86.02 L75.11 89.81 L75.53 93.44 L75.94 96.93 L76.35 100.28 L76.76 103.49 L77.17 106.57 L77.58 109.53 L78.00 112.37 L78.41 115.09 L78.82 117.71 L79.23 120.22 L79.64 122.63 L80.06 124.94 L80.47 127.16 L80.88 129.29 L81.29 131.33 L81.70 133.29 L82.11 135.17 L82.53 136.98 L82.94 138.72 L83.35 140.38 L83.76 141.98 L84.17 143.51 L84.58 144.98 L85.00 146.39 L85.41 147.75 L85.82 149.05 L86.23 150.30 L86.64 151.50 L87.05 152.65 L87.47 153.75 L87.88 154.81 L88.29 155.83 L88.70 156.80 L89.11 157.74 L89.53 158.64 L89.94 159.50 L90.35 160.33 L90.76 161.12 L91.17 161.88 L91.58 162.62 L92.00 163.32 L92.41 163.99 L92.82 164.64 L93.23 165.26 L93.64 165.86 L94.05 166.43 L94.47 166.98 L94.88 167.50 L95.29 168.01 L95.70 168.50 L96.11 168.96 L96.52 169.41 L96.94 169.84 L97.35 170.25 L97.76 170.64 L98.17 171.02 L98.58 171.39 L99.00 171.74 L99.41 172.07 L99.82 172.39 L100.23 172.70 L100.64 173.00 L101.05 173.28 L101.47 173.56 L101.88 173.82 L102.29 174.07 L102.70 174.31 L103.11 174.54 L103.52 174.77 L103.94 174.98 L104.35 175.18 L104.76 175.38 L105.17 175.57 L105.58 175.75 L105.99 175.92 L106.41 176.09 L106.82 176.25 L107.23 176.40 L107.64 176.55 L108.05 176.69 L108.47 176.83 L108.88 176.96 L109.29 177.08 L109.70 177.20 L110.11 177.32 L110.52 177.43 L110.94 177.54 L111.35 177.64 L111.76 177.74 L112.17 177.83 L112.58 177.92 L112.99 178.01 L113.41 178.09 L113.82 178.17 L114.23 178.25 L114.64 178.32 L115.05 178.39 L115.46 178.46 L115.88 178.52 L116.29 178.58 L116.70 178.64 L117.11 178.70 L117.52 178.76 L117.94 178.81 L118.35 178.86 L118.76 178.91 L119.17 178.95 L119.58 179.00 L119.99 179.04 L120.41 179.08 L120.82 179.12 L121.23 179.16 L121.64 179.20 L122.05 179.23 L122.46 179.27 L122.88 179.30 L123.29 179.33 L123.70 179.36 L124.11 179.39 L124.52 179.41 L124.94 179.44 L125.35 179.47 L125.76 179.49 L126.17 179.51 L126.58 179.54 L126.99 179.56 L127.41 179.58 L127.82 179.60 L128.23 179.62 L128.64 179.63 L129.05 179.65 L129.46 179.67 L129.88 179.68 L130.29 179.70 L130.70 179.71 L131.11 179.73 L131.52 179.74 L131.93 179.76 L132.35 179.77 L132.76 179.78 L133.17 179.79 L133.58 179.80 L133.99 179.81 L134.41 179.82 L134.82 179.83 L135.23 179.84 L135.64 179.85 L136.05 179.86 L136.46 179.87 L136.88 179.88 L137.29 179.88 L137.70 179.89 L138.11 179.90 L138.52 179.91 L138.93 179.91 L139.35 179.92 L139.76 179.92 L140.17 179.93 L140.58 179.94 L140.99 179.94 L141.40 179.95 L141.82 179.95 L142.23 179.96 L142.64 179.96 L143.05 179.96 L143.46 179.97 L143.88 179.97 L144.29 179.98 L144.70 179.98 L145.11 179.98 L145.52 179.99 L145.93 179.99 L146.35 179.99 L146.76 180.00 L147.17 180.00 L147.58 180.00 L147.99 180.00 L148.40 180.01 L148.82 180.01 L149.23 180.01 L149.64 180.01 L150.05 180.02 L150.46 180.02 L150.87 180.02 L151.29 180.02 L151.70 180.02 L152.11 180.03 L152.52 180.03 L152.93 180.03 L153.35 180.03 L153.76 180.03 L154.17 180.03 L154.58 180.03 L154.99 180.04 L155.40 180.04 L155.82 180.04 L156.23 180.04 L156.64 180.04 L157.05 180.04 L157.46 180.04 L157.87 180.04 L158.29 180.04 L158.70 180.05 L159.11 180.05 L159.52 180.05 L159.93 180.05 L160.34 180.05 L160.76 180.05 L161.17 180.05 L161.58 180.05 L161.99 180.05 L162.40 180.05 L162.82 180.05 L163.23 180.05 L163.64 180.05 L164.05 180.05 L164.46 180.05 L164.87 180.06 L165.29 180.06 L165.70 180.06 L166.11 180.06 L166.52 180.06 L166.93 180.06 L167.34 180.06 L167.76 180.06 L168.17 180.06 L168.58 180.06 L168.99 180.06 L169.40 180.06 L169.81 180.06 L170.23 180.06 L170.64 180.06 L171.05 180.06 L171.46 180.06 L171.87 180.06 L172.29 180.06 L172.70 180.06 L173.11 180.06 L173.52 180.06 L173.93 180.06 L174.34 180.06 L174.76 180.06 L175.17 180.06 L175.58 180.06 L175.99 180.06 L176.40 180.06 L176.81 180.06 L177.23 180.06 L177.64 180.06 L178.05 180.06 L178.46 180.06 L178.87 180.06 L179.28 180.06 L179.70 180.06 L180.11 180.06 L180.52 180.06 L180.93 180.06 L181.34 180.06 L181.76 180.06 L182.17 180.06 L182.58 180.07 L182.99 180.07 L183.40 180.07 L183.81 180.07 L184.23 180.07 L184.64 180.07 L185.05 180.07 L185.46 180.07 L185.87 180.07 L186.28 180.07 L186.70 180.07 L187.11 180.07 L187.52 180.07 L187.93 180.07 L188.34 180.07 L188.76 180.07 L189.17 180.07 L189.58 180.07 L189.99 180.07 L190.40 180.07 L190.81 180.07 L191.23 180.07 L191.64 180.07 L192.05 180.07 L192.46 180.07 L192.87 180.07 L193.28 180.07 L193.70 180.07 L194.11 180.07 L194.52 180.07 L194.93 180.07 L195.34 180.07 L195.75 180.07 L196.17 180.07 L196.58 180.07 L196.99 180.07 L197.40 180.07 L197.81 180.07 L198.23 180.07 L198.64 180.07 L199.05 180.07 L199.46 180.07 L199.87 180.07 L200.28 180.07 L200.70 180.07 L201.11 180.07 L201.52 180.07 L201.93 180.07 L202.34 180.07 L202.75 180.07 L203.17 180.07 L203.58 180.07 L203.99 180.07 L204.40 180.07 L204.81 180.07 L205.22 180.07 L205.64 180.07 L206.05 180.07 L206.46 180.07 L206.87 180.07 L207.28 180.07 L207.70 180.07 L208.11 180.07 L208.52 180.07 L208.93 180.07 L209.34 180.07 L209.75 180.07 L210.17 180.07 L210.58 180.07 L210.99 180.07 L211.40 180.07 L211.81 180.07 L212.22 180.07 L212.64 180.07 L213.05 180.07 L213.46 180.07 L213.87 180.07 L214.28 180.07 L214.69 180.07 L215.11 180.07 L215.52 180.07 L215.93 180.07 L216.34 180.07 L216.75 180.07 L217.17 180.07 L217.58 180.07 L217.99 180.07 L218.40 180.07 L218.81 180.07 L219.22 180.07 L219.64 180.07 L220.05 180.07 L220.46 180.07 L220.87 180.07 L221.28 180.07 L221.69 180.07 L222.11 180.07 L222.52 180.07 L222.93 180.07 L223.34 180.07 L223.75 180.07 L224.16 180.07 L224.58 180.07 L224.99 180.07 L225.40 180.07 L225.81 180.07 L226.22 180.07 L226.64 180.07 L227.05 180.07 L227.46 180.07 L227.87 180.07 L228.28 180.07 L228.69 180.07 L229.11 180.07 L229.52 180.07 L229.93 180.07 L230.34 180.07 L230.75 180.07 L231.16 180.07 L231.58 180.07 L231.99 180.07 L232.40 180.07 L232.81 180.07 L233.22 180.07 L233.63 180.07 L234.05 180.07 L234.46 180.07 L234.87 180.07 L235.28 180.07 L235.69 180.07 L236.11 180.07 L236.52 180.07 L236.93 180.07 L237.34 180.07 L237.75 180.07 L238.16 180.07 L238.58 180.07 L238.99 180.07 L239.40 180.07 L239.81 180.07 L240.22 180.07 L240.63 180.07 L241.05 180.07 L241.46 180.07 L241.87 180.07 L242.28 180.07 L242.69 180.07 L243.10 180.07 L243.52 180.07 L243.93 180.07 L244.34 180.07 L244.75 180.07 L245.16 180.07 L245.58 180.07 L245.99 180.07 L246.40 180.07 L246.81 180.07 L247.22 180.07 L247.63 180.07 L248.05 180.07 L248.46 180.07 L248.87 180.07 L249.28 180.07 L249.69 180.07 L250.10 180.07 L250.52 180.07 L250.93 180.07 L251.34 180.07 L251.75 180.07 L252.16 180.07 L252.58 180.07 L252.99 180.07 L253.40 180.07 L253.81 180.07 L254.22 180.07 L254.63 180.07 L255.05 180.07 L255.46 180.07 L255.87 180.07 L256.28 180.07 L256.69 180.07 L257.10 180.07 L257.52 180.07 L257.93 180.07 L258.34 180.07 L258.75 180.07 L259.16 180.07 L259.57 180.07 L259.99 180.07 L260.40 180.07 L260.81 180.07 L261.22 180.07 L261.63 180.07 L262.05 180.07 L262.46 180.07 L262.87 180.07 L263.28 180.07 L263.69 180.07 L264.10 180.07 L264.52 180.07 L264.93 180.07 L265.34 180.07 L265.75 180.07 L266.16 180.07 L266.57 180.07 L266.99 180.07 L267.40 180.07 L267.81 180.07 L268.22 180.07 L268.63 180.07 L269.04 180.07 L269.46 180.07 L269.87 180.07 L270.28 180.07 L270.69 180.07 L271.10 180.07 L271.52 180.07 L271.93 180.07 L272.34 180.07 L272.75 180.07 L273.16 180.07 L273.57 180.07 L273.99 180.07 L274.40 180.07 L274.81 180.07 L275.22 180.07 L275.63 180.07 L276.04 180.07 L276.46 180.07 L276.87 180.07 L277.28 180.07 L277.69 180.07 L278.10 180.07 L278.51 180.07 L278.93 180.07 L279.34 180.07 L279.75 180.07" stroke="#ff00ff" stroke-dasharray="1.5 1.9"/>
<path d="M70.15 105.04 L70.15 105.04 L70.15 105.04 L70.15 105.04 L70.15 105.04 L70.15 105.04 L70.15 105.04 L70.15 105.04 L70.15 105.04 L70.15 105.04 L70.15 105.04 L70.15 105.04 L70.15 105.04 L70.15 105.04 L70.15 105.04 L70.15 105.04 L70.16 105.04 L70.16 105.04 L70.16 105.04 L70.16 105.04 L70.16 105.04 L70.16 105.04 L70.16 105.04 L70.16 105.04 L70.16 105.04 L70.16 105.04 L70.16 105.04 L70.16 105.04 L70.16 105.04 L70.16 105.04 L70.16 105.04 L70.16 105.04 L70.16 105.04 L70.17 105.05 L70.17 105.07 L70.17 105.08 L70.17 105.10 L70.17 105.12 L70.17 105.15 L70.17 105.18 L70.17 105.21 L70.18 105.25 L70.18 105.31 L70.18 105.39 L70.18 105.48 L70.18 105.59 L70.18 105.71 L70.19 105.84 L70.19 105.98 L70.19 106.12 L70.19 106.27 L70.20 106.42 L70.20 106.57 L70.20 106.72 L70.21 106.88 L70.21 107.08 L70.22 107.31 L70.22 107.56 L70.22 107.81 L70.23 108.05 L70.24 108.27 L70.24 108.46 L70.25 108.61 L70.25 108.71 L70.26 108.75 L70.27 108.64 L70.28 108.35 L70.29 107.88 L70.29 107.27 L70.31 106.54 L70.32 105.68 L70.33 103.99 L70.34 101.64 L70.35 99.18 L70.37 96.41 L70.38 93.36 L70.40 90.13 L70.42 86.83 L70.44 83.56 L70.46 80.40 L70.48 77.17 L70.51 73.55 L70.53 69.20 L70.56 64.10 L70.59 58.65 L70.63 53.23 L70.66 48.27 L70.70 44.05 L70.75 40.51 L70.79 37.22 L70.84 34.17 L70.89 31.04 L70.95 29.61 L71.01 29.43 L71.08 30.86 L71.15 33.18 L71.22 35.90 L71.30 39.15 L71.38 42.67 L71.47 46.71 L71.57 50.96 L71.66 55.04 L71.76 58.59 L71.87 61.75 L71.98 64.83 L72.09 67.76 L72.21 70.48 L72.32 72.97 L72.44 75.44 L72.56 77.92 L72.69 80.39 L72.82 82.84 L72.95 85.26 L73.08 87.75 L73.23 90.31 L73.37 92.95 L73.53 95.68 L73.70 98.48 L73.87 101.35 L74.06 104.30 L74.26 107.31 L74.29 107.77 L74.70 113.59 L75.11 118.94 L75.53 123.86 L75.94 128.39 L76.35 132.54 L76.76 136.37 L77.17 139.89 L77.58 143.12 L78.00 146.09 L78.41 148.83 L78.82 151.34 L79.23 153.66 L79.64 155.78 L80.06 157.74 L80.47 159.53 L80.88 161.19 L81.29 162.71 L81.70 164.10 L82.11 165.39 L82.53 166.57 L82.94 167.66 L83.35 168.65 L83.76 169.57 L84.17 170.42 L84.58 171.19 L85.00 171.91 L85.41 172.57 L85.82 173.17 L86.23 173.72 L86.64 174.23 L87.05 174.70 L87.47 175.14 L87.88 175.53 L88.29 175.90 L88.70 176.23 L89.11 176.54 L89.53 176.83 L89.94 177.09 L90.35 177.33 L90.76 177.55 L91.17 177.75 L91.58 177.94 L92.00 178.11 L92.41 178.27 L92.82 178.41 L93.23 178.54 L93.64 178.67 L94.05 178.78 L94.47 178.88 L94.88 178.98 L95.29 179.07 L95.70 179.15 L96.11 179.22 L96.52 179.29 L96.94 179.35 L97.35 179.41 L97.76 179.46 L98.17 179.51 L98.58 179.56 L99.00 179.60 L99.41 179.63 L99.82 179.67 L100.23 179.70 L100.64 179.73 L101.05 179.76 L101.47 179.78 L101.88 179.81 L102.29 179.83 L102.70 179.85 L103.11 179.86 L103.52 179.88 L103.94 179.90 L104.35 179.91 L104.76 179.92 L105.17 179.93 L105.58 179.94 L105.99 179.95 L106.41 179.96 L106.82 179.97 L107.23 179.98 L107.64 179.99 L108.05 179.99 L108.47 180.00 L108.88 180.00 L109.29 180.01 L109.70 180.01 L110.11 180.02 L110.52 180.02 L110.94 180.03 L111.35 180.03 L111.76 180.03 L112.17 180.03 L112.58 180.04 L112.99 180.04 L113.41 180.04 L113.82 180.04 L114.23 180.05 L114.64 180.05 L115.05 180.05 L115.46 180.05 L115.88 180.05 L116.29 180.05 L116.70 180.05 L117.11 180.06 L117.52 180.06 L117.94 180.06 L118.35 180.06 L118.76 180.06 L119.17 180.06 L119.58 180.06 L119.99 180.06 L120.41 180.06 L120.82 180.06 L121.23 180.06 L121.64 180.06 L122.05 180.06 L122.46 180.06 L122.88 180.06 L123.29 180.06 L123.70 180.06 L124.11 180.06 L124.52 180.06 L124.94 180.06 L125.35 180.06 L125.76 180.06 L126.17 180.07 L126.58 180.07 L126.99 180.07 L127.41 180.07 L127.82 180.07 L128.23 180.07 L128.64 180.07 L129.05 180.07 L129.46 180.07 L129.88 180.07 L130.29 180.07 L130.70 180.07 L131.11 180.07 L131.52 180.07 L131.93 180.07 L132.35 180.07 L132.76 180.07 L133.17 180.07 L133.58 180.07 L133.99 180.07 L134.41 180.07 L134.82 180.07 L135.23 180.07 L135.64 180.07 L136.05 180.07 L136.46 180.07 L136.88 180.07 L137.29 180.07 L137.70 180.07 L138.11 180.07 L138.52 180.07 L138.93 180.07 L139.35 180.07 L139.76 180.07 L140.17 180.07 L140.58 180.07 L140.99 180.07 L141.40 180.07 L141.82 180.07 L142.23 180.07 L142.64 180.07 L143.05 180.07 L143.46 180.07 L143.88 180.07 L144.29 180.07 L144.70 180.07 L145.11 180.07 L145.52 180.07 L145.93 180.07 L146.35 180.07 L146.76 180.07 L147.17 180.07 L147.58 180.07 L147.99 180.07 L148.40 180.07 L148.82 180.07 L149.23 180.07 L149.64 180.07 L150.05 180.07 L150.46 180.07 L150.87 180.07 L151.29 180.07 L151.70 180.07 L152.11 180.07 L152.52 180.07 L152.93 180.07 L153.35 180.07 L153.76 180.07 L154.17 180.07 L154.58 180.07 L154.99 180.07 L155.40 180.07 L155.82 180.07 L156.23 180.07 L156.64 180.07 L157.05 180.07 L157.46 180.07 L157.87 180.07 L158.29 180.07 L158.70 180.07 L159.11 180.07 L159.52 180.07 L159.93 180.07 L160.34 180.07 L160.76 180.07 L161.17 180.07 L161.58 180.07 L161.99 180.07 L162.40 180.07 L162.82 180.07 L163.23 180.07 L163.64 180.07 L164.05 180.07 L164.46 180.07 L164.87 180.07 L165.29 180.07 L165.70 180.07 L166.11 180.07 L166.52 180.07 L166.93 180.07 L167.34 180.07 L167.76 180.07 L168.17 180.07 L168.58 180.07 L168.99 180.07 L169.40 180.07 L169.81 180.07 L170.23 180.07 L170.64 180.07 L171.05 180.07 L171.46 180.07 L171.87 180.07 L172.29 180.07 L172.70 180.07 L173.11 180.07 L173.52 180.07 L173.93 180.07 L174.34 180.07 L174.76 180.07 L175.17 180.07 L175.58 180.07 L175.99 180.07 L176.40 180.07 L176.81 180.07 L177.23 180.07 L177.64 180.07 L178.05 180.07 L178.46 180.07 L178.87 180.07 L179.28 180.07 L179.70 180.07 L180.11 180.07 L180.52 180.07 L180.93 180.07 L181.34 180.07 L181.76 180.07 L182.17 180.07 L182.58 180.07 L182.99 180.07 L183.40 180.07 L183.81 180.07 L184.23 180.07 L184.64 180.07 L185.05 180.07 L185.46 180.07 L185.87 180.07 L186.28 180.07 L186.70 180.07 L187.11 180.07 L187.52 180.07 L187.93 180.07 L188.34 180.07 L188.76 180.07 L189.17 180.07 L189.58 180.07 L189.99 180.07 L190.40 180.07 L190.81 180.07 L191.23 180.07 L191.64 180.07 L192.05 180.07 L192.46 180.07 L192.87 180.07 L193.28 180.07 L193.70 180.07 L194.11 180.07 L194.52 180.07 L194.93 180.07 L195.34 180.07 L195.75 180.07 L196.17 180.07 L196.58 180.07 L196.99 180.07 L197.40 180.07 L197.81 180.07 L198.23 180.07 L198.64 180.07 L199.05 180.07 L199.46 180.07 L199.87 180.07 L200.28 180.07 L200.70 180.07 L201.11 180.07 L201.52 180.07 L201.93 180.07 L202.34 180.07 L202.75 180.07 L203.17 180.07 L203.58 180.07 L203.99 180.07 L204.40 180.07 L204.81 180.07 L205.22 180.07 L205.64 180.07 L206.05 180.07 L206.46 180.07 L206.87 180.07 L207.28 180.07 L207.70 180.07 L208.11 180.07 L208.52 180.07 L208.93 180.07 L209.34 180.07 L209.75 180.07 L210.17 180.07 L210.58 180.07 L210.99 180.07 L211.40 180.07 L211.81 180.07 L212.22 180.07 L212.64 180.07 L213.05 180.07 L213.46 180.07 L213.87 180.07 L214.28 180.07 L214.69 180.07 L215.11 180.07 L215.52 180.07 L215.93 180.07 L216.34 180.07 L216.75 180.07 L217.17 180.07 L217.58 180.07 L217.99 180.07 L218.40 180.07 L218.81 180.07 L219.22 180.07 L219.64 180.07 L220.05 180.07 L220.46 180.07 L220.87 180.07 L221.28 180.07 L221.69 180.07 L222.11 180.07 L222.52 180.07 L222.93 180.07 L223.34 180.07 L223.75 180.07 L224.16 180.07 L224.58 180.07 L224.99 180.07 L225.40 180.07 L225.81 180.07 L226.22 180.07 L226.64 180.07 L227.05 180.07 L227.46 180.07 L227.87 180.07 L228.28 180.07 L228.69 180.07 L229.11 180.07 L229.52 180.07 L229.93 180.07 L230.34 180.07 L230.75 180.07 L231.16 180.07 L231.58 180.07 L231.99 180.07 L232.40 180.07 L232.81 180.07 L233.22 180.07 L233.63 180.07 L234.05 180.07 L234.46 180.07 L234.87 180.07 L235.28 180.07 L235.69 180.07 L236.11 180.07 L236.52 180.07 L236.93 180.07 L237.34 180.07 L237.75 180.07 L238.16 180.07 L238.58 180.07 L238.99 180.07 L239.40 180.07 L239.81 180.07 L240.22 180.07 L240.63 180.07 L241.05 180.07 L241.46 180.07 L241.87 180.07 L242.28 180.07 L242.69 180.07 L243.10 180.07 L243.52 180.07 L243.93 180.07 L244.34 180.07 L244.75 180.07 L245.16 180.07 L245.58 180.07 L245.99 180.07 L246.40 180.07 L246.81 180.07 L247.22 180.07 L247.63 180.07 L248.05 180.07 L248.46 180.07 L248.87 180.07 L249.28 180.07 L249.69 180.07 L250.10 180.07 L250.52 180.07 L250.93 180.07 L251.34 180.07 L251.75 180.07 L252.16 180.07 L252.58 180.07 L252.99 180.07 L253.40 180.07 L253.81 180.07 L254.22 180.07 L254.63 180.07 L255.05 180.07 L255.46 180.07 L255.87 180.07 L256.28 180.07 L256.69 180.07 L257.10 180.07 L257.52 180.07 L257.93 180.07 L258.34 180.07 L258.75 180.07 L259.16 180.07 L259.57 180.07 L259.99 180.07 L260.40 180.07 L260.81 180.07 L261.22 180.07 L261.63 180.07 L262.05 180.07 L262.46 180.07 L262.87 180.07 L263.28 180.07 L263.69 180.07 L264.10 180.07 L264.52 180.07 L264.93 180.07 L265.34 180.07 L265.75 180.07 L266.16 180.07 L266.57 180.07 L266.99 180.07 L267.40 180.07 L267.81 180.07 L268.22 180.07 L268.63 180.07 L269.04 180.07 L269.46 180.07 L269.87 180.07 L270.28 180.07 L270.69 180.07 L271.10 180.07 L271.52 180.07 L271.93 180.07 L272.34 180.07 L272.75 180.07 L273.16 180.07 L273.57 180.07 L273.99 180.07 L274.40 180.07 L274.81 180.07 L275.22 180.07 L275.63 180.07 L276.04 180.07 L276.46 180.07 L276.87 180.07 L277.28 180.07 L277.69 180.07 L278.10 180.07 L278.51 180.07 L278.93 180.07 L279.34 180.07 L279.75 180.07" stroke="#000000" stroke-dasharray="11 2.2 1.5 2.2"/>
<path d="M70.15 105.04 L70.15 105.04 L70.15 105.04 L70.15 105.04 L70.15 105.04 L70.15 105.04 L70.15 105.04 L70.15 105.04 L70.15 105.04 L70.15 105.04 L70.15 105.04 L70.15 105.04 L70.15 105.04 L70.15 105.04 L70.15 105.04 L70.15 105.04 L70.16 105.04 L70.16 105.04 L70.16 105.04 L70.16 105.04 L70.16 105.04 L70.16 105.04 L70.16 105.04 L70.16 105.04 L70.16 105.04 L70.16 105.04 L70.16 105.04 L70.16 105.04 L70.16 105.04 L70.16 105.04 L70.16 105.04 L70.16 105.04 L70.16 105.04 L70.17 105.05 L70.17 105.07 L70.17 105.08 L70.17 105.10 L70.17 105.12 L70.17 105.15 L70.17 105.18 L70.17 105.21 L70.18 105.25 L70.18 105.31 L70.18 105.39 L70.18 105.48 L70.18 105.59 L70.18 105.71 L70.19 105.84 L70.19 105.98 L70.19 106.12 L70.19 106.27 L70.20 106.42 L70.20 106.57 L70.20 106.72 L70.21 106.88 L70.21 107.08 L70.22 107.31 L70.22 107.56 L70.22 107.81 L70.23 108.05 L70.24 108.27 L70.24 108.46 L70.25 108.61 L70.25 108.71 L70.26 108.75 L70.27 108.64 L70.28 108.35 L70.29 107.88 L70.29 107.27 L70.31 106.54 L70.32 105.68 L70.33 103.99 L70.34 101.64 L70.35 99.18 L70.37 96.41 L70.38 93.36 L70.40 90.13 L70.42 86.83 L70.44 83.56 L70.46 80.40 L70.48 77.17 L70.51 73.55 L70.53 69.20 L70.56 64.10 L70.59 58.65 L70.63 53.23 L70.66 48.27 L70.70 44.56 L70.75 42.27 L70.79 40.37 L70.84 38.83 L70.89 37.35 L70.95 37.64 L71.01 39.20 L71.08 42.35 L71.15 46.35 L71.22 50.75 L71.30 55.64 L71.38 60.76 L71.47 66.30 L71.57 71.99 L71.66 77.49 L71.76 82.51 L71.87 87.20 L71.98 91.78 L72.09 96.21 L72.21 100.45 L72.32 104.50 L72.44 108.50 L72.56 112.46 L72.69 116.37 L72.82 120.22 L72.95 123.98 L73.08 127.71 L73.23 131.41 L73.37 135.05 L73.53 138.62 L73.70 142.11 L73.87 145.50 L74.06 148.77 L74.26 151.91 L74.29 152.38 L74.70 157.83 L75.11 162.20 L75.53 165.72 L75.94 168.54 L76.35 170.81 L76.76 172.63 L77.17 174.09 L77.58 175.27 L78.00 176.21 L78.41 176.97 L78.82 177.58 L79.23 178.07 L79.64 178.46 L80.06 178.78 L80.47 179.03 L80.88 179.24 L81.29 179.40 L81.70 179.53 L82.11 179.64 L82.53 179.72 L82.94 179.79 L83.35 179.84 L83.76 179.89 L84.17 179.92 L84.58 179.95 L85.00 179.97 L85.41 179.99 L85.82 180.01 L86.23 180.02 L86.64 180.03 L87.05 180.04 L87.47 180.04 L87.88 180.05 L88.29 180.05 L88.70 180.05 L89.11 180.06 L89.53 180.06 L89.94 180.06 L90.35 180.06 L90.76 180.06 L91.17 180.06 L91.58 180.06 L92.00 180.06 L92.41 180.07 L92.82 180.07 L93.23 180.07 L93.64 180.07 L94.05 180.07 L94.47 180.07 L94.88 180.07 L95.29 180.07 L95.70 180.07 L96.11 180.07 L96.52 180.07 L96.94 180.07 L97.35 180.07 L97.76 180.07 L98.17 180.07 L98.58 180.07 L99.00 180.07 L99.41 180.07 L99.82 180.07 L100.23 180.07 L100.64 180.07 L101.05 180.07 L101.47 180.07 L101.88 180.07 L102.29 180.07 L102.70 180.07 L103.11 180.07 L103.52 180.07 L103.94 180.07 L104.35 180.07 L104.76 180.07 L105.17 180.07 L105.58 180.07 L105.99 180.07 L106.41 180.07 L106.82 180.07 L107.23 180.07 L107.64 180.07 L108.05 180.07 L108.47 180.07 L108.88 180.07 L109.29 180.07 L109.70 180.07 L110.11 180.07 L110.52 180.07 L110.94 180.07 L111.35 180.07 L111.76 180.07 L112.17 180.07 L112.58 180.07 L112.99 180.07 L113.41 180.07 L113.82 180.07 L114.23 180.07 L114.64 180.07 L115.05 180.07 L115.46 180.07 L115.88 180.07 L116.29 180.07 L116.70 180.07 L117.11 180.07 L117.52 180.07 L117.94 180.07 L118.35 180.07 L118.76 180.07 L119.17 180.07 L119.58 180.07 L119.99 180.07 L120.41 180.07 L120.82 180.07 L121.23 180.07 L121.64 180.07 L122.05 180.07 L122.46 180.07 L122.88 180.07 L123.29 180.07 L123.70 180.07 L124.11 180.07 L124.52 180.07 L124.94 180.07 L125.35 180.07 L125.76 180.07 L126.17 180.07 L126.58 180.07 L126.99 180.07 L127.41 180.07 L127.82 180.07 L128.23 180.07 L128.64 180.07 L129.05 180.07 L129.46 180.07 L129.88 180.07 L130.29 180.07 L130.70 180.07 L131.11 180.07 L131.52 180.07 L131.93 180.07 L132.35 180.07 L132.76 180.07 L133.17 180.07 L133.58 180.07 L133.99 180.07 L134.41 180.07 L134.82 180.07 L135.23 180.07 L135.64 180.07 L136.05 180.07 L136.46 180.07 L136.88 180.07 L137.29 180.07 L137.70 180.07 L138.11 180.07 L138.52 180.07 L138.93 180.07 L139.35 180.07 L139.76 180.07 L140.17 180.07 L140.58 180.07 L140.99 180.07 L141.40 180.07 L141.82 180.07 L142.23 180.07 L142.64 180.07 L143.05 180.07 L143.46 180.07 L143.88 180.07 L144.29 180.07 L144.70 180.07 L145.11 180.07 L145.52 180.07 L145.93 180.07 L146.35 180.07 L146.76 180.07 L147.17 180.07 L147.58 180.07 L147.99 180.07 L148.40 180.07 L148.82 180.07 L149.23 180.07 L149.64 180.07 L150.05 180.07 L150.46 180.07 L150.87 180.07 L151.29 180.07 L151.70 180.07 L152.11 180.07 L152.52 180.07 L152.93 180.07 L153.35 180.07 L153.76 180.07 L154.17 180.07 L154.58 180.07 L154.99 180.07 L155.40 180.07 L155.82 180.07 L156.23 180.07 L156.64 180.07 L157.05 180.07 L157.46 180.07 L157.87 180.07 L158.29 180.07 L158.70 180.07 L159.11 180.07 L159.52 180.07 L159.93 180.07 L160.34 180.07 L160.76 180.07 L161.17 180.07 L161.58 180.07 L161.99 180.07 L162.40 180.07 L162.82 180.07 L163.23 180.07 L163.64 180.07 L164.05 180.07 L164.46 180.07 L164.87 180.07 L165.29 180.07 L165.70 180.07 L166.11 180.07 L166.52 180.07 L166.93 180.07 L167.34 180.07 L167.76 180.07 L168.17 180.07 L168.58 180.07 L168.99 180.07 L169.40 180.07 L169.81 180.07 L170.23 180.07 L170.64 180.07 L171.05 180.07 L171.46 180.07 L171.87 180.07 L172.29 180.07 L172.70 180.07 L173.11 180.07 L173.52 180.07 L173.93 180.07 L174.34 180.07 L174.76 180.07 L175.17 180.07 L175.58 180.07 L175.99 180.07 L176.40 180.07 L176.81 180.07 L177.23 180.07 L177.64 180.07 L178.05 180.07 L178.46 180.07 L178.87 180.07 L179.28 180.07 L179.70 180.07 L180.11 180.07 L180.52 180.07 L180.93 180.07 L181.34 180.07 L181.76 180.07 L182.17 180.07 L182.58 180.07 L182.99 180.07 L183.40 180.07 L183.81 180.07 L184.23 180.07 L184.64 180.07 L185.05 180.07 L185.46 180.07 L185.87 180.07 L186.28 180.07 L186.70 180.07 L187.11 180.07 L187.52 180.07 L187.93 180.07 L188.34 180.07 L188.76 180.07 L189.17 180.07 L189.58 180.07 L189.99 180.07 L190.40 180.07 L190.81 180.07 L191.23 180.07 L191.64 180.07 L192.05 180.07 L192.46 180.07 L192.87 180.07 L193.28 180.07 L193.70 180.07 L194.11 180.07 L194.52 180.07 L194.93 180.07 L195.34 180.07 L195.75 180.07 L196.17 180.07 L196.58 180.07 L196.99 180.07 L197.40 180.07 L197.81 180.07 L198.23 180.07 L198.64 180.07 L199.05 180.07 L199.46 180.07 L199.87 180.07 L200.28 180.07 L200.70 180.07 L201.11 180.07 L201.52 180.07 L201.93 180.07 L202.34 180.07 L202.75 180.07 L203.17 180.07 L203.58 180.07 L203.99 180.07 L204.40 180.07 L204.81 180.07 L205.22 180.07 L205.64 180.07 L206.05 180.07 L206.46 180.07 L206.87 180.07 L207.28 180.07 L207.70 180.07 L208.11 180.07 L208.52 180.07 L208.93 180.07 L209.34 180.07 L209.75 180.07 L210.17 180.07 L210.58 180.07 L210.99 180.07 L211.40 180.07 L211.81 180.07 L212.22 180.07 L212.64 180.07 L213.05 180.07 L213.46 180.07 L213.87 180.07 L214.28 180.07 L214.69 180.07 L215.11 180.07 L215.52 180.07 L215.93 180.07 L216.34 180.07 L216.75 180.07 L217.17 180.07 L217.58 180.07 L217.99 180.07 L218.40 180.07 L218.81 180.07 L219.22 180.07 L219.64 180.07 L220.05 180.07 L220.46 180.07 L220.87 180.07 L221.28 180.07 L221.69 180.07 L222.11 180.07 L222.52 180.07 L222.93 180.07 L223.34 180.07 L223.75 180.07 L224.16 180.07 L224.58 180.07 L224.99 180.07 L225.40 180.07 L225.81 180.07 L226.22 180.07 L226.64 180.07 L227.05 180.07 L227.46 180.07 L227.87 180.07 L228.28 180.07 L228.69 180.07 L229.11 180.07 L229.52 180.07 L229.93 180.07 L230.34 180.07 L230.75 180.07 L231.16 180.07 L231.58 180.07 L231.99 180.07 L232.40 180.07 L232.81 180.07 L233.22 180.07 L233.63 180.07 L234.05 180.07 L234.46 180.07 L234.87 180.07 L235.28 180.07 L235.69 180.07 L236.11 180.07 L236.52 180.07 L236.93 180.07 L237.34 180.07 L237.75 180.07 L238.16 180.07 L238.58 180.07 L238.99 180.07 L239.40 180.07 L239.81 180.07 L240.22 180.07 L240.63 180.07 L241.05 180.07 L241.46 180.07 L241.87 180.07 L242.28 180.07 L242.69 180.07 L243.10 180.07 L243.52 180.07 L243.93 180.07 L244.34 180.07 L244.75 180.07 L245.16 180.07 L245.58 180.07 L245.99 180.07 L246.40 180.07 L246.81 180.07 L247.22 180.07 L247.63 180.07 L248.05 180.07 L248.46 180.07 L248.87 180.07 L249.28 180.07 L249.69 180.07 L250.10 180.07 L250.52 180.07 L250.93 180.07 L251.34 180.07 L251.75 180.07 L252.16 180.07 L252.58 180.07 L252.99 180.07 L253.40 180.07 L253.81 180.07 L254.22 180.07 L254.63 180.07 L255.05 180.07 L255.46 180.07 L255.87 180.07 L256.28 180.07 L256.69 180.07 L257.10 180.07 L257.52 180.07 L257.93 180.07 L258.34 180.07 L258.75 180.07 L259.16 180.07 L259.57 180.07 L259.99 180.07 L260.40 180.07 L260.81 180.07 L261.22 180.07 L261.63 180.07 L262.05 180.07 L262.46 180.07 L262.87 180.07 L263.28 180.07 L263.69 180.07 L264.10 180.07 L264.52 180.07 L264.93 180.07 L265.34 180.07 L265.75 180.07 L266.16 180.07 L266.57 180.07 L266.99 180.07 L267.40 180.07 L267.81 180.07 L268.22 180.07 L268.63 180.07 L269.04 180.07 L269.46 180.07 L269.87 180.07 L270.28 180.07 L270.69 180.07 L271.10 180.07 L271.52 180.07 L271.93 180.07 L272.34 180.07 L272.75 180.07 L273.16 180.07 L273.57 180.07 L273.99 180.07 L274.40 180.07 L274.81 180.07 L275.22 180.07 L275.63 180.07 L276.04 180.07 L276.46 180.07 L276.87 180.07 L277.28 180.07 L277.69 180.07 L278.10 180.07 L278.51 180.07 L278.93 180.07 L279.34 180.07 L279.75 180.07" stroke="#0000ff" stroke-dasharray="5.5 4 1.5 4.4"/>
<path d="M71.08 42.35 L71.15 46.35 L71.22 50.75 L71.30 55.64 L71.38 60.76 L71.47 66.30 L71.57 71.99 L71.66 77.49 L71.76 82.51 L71.87 87.20 L71.98 91.78 L72.09 96.21 L72.21 100.45 L72.32 104.50" stroke="#0000ff"/>
</g>
<g clip-path="url(#cb)" fill="none" stroke-width="1.8">
<path d="M285.90 105.04 L286.57 105.43 L287.23 106.25 L287.90 107.43 L288.57 108.89 L289.23 110.56 L289.90 112.39 L290.57 114.33 L291.24 116.35 L291.90 118.41 L292.57 120.50 L293.24 122.59 L293.90 124.67 L294.57 126.73 L295.24 128.75 L295.90 130.74 L296.57 132.68 L297.24 134.58 L297.91 136.42 L298.57 138.22 L299.24 139.96 L299.91 141.65 L300.57 143.29 L301.24 144.87 L301.91 146.41 L302.57 147.89 L303.24 149.33 L303.91 150.72 L304.58 152.06 L305.24 153.35 L305.91 154.61 L306.58 155.82 L307.24 156.98 L307.91 158.11 L308.58 159.20 L309.24 160.25 L309.91 161.26 L310.58 162.24 L311.25 163.19 L311.91 164.10 L312.58 164.98 L313.25 165.83 L313.91 166.65 L314.58 167.44 L315.25 168.21 L315.91 168.95 L316.58 169.66 L317.25 170.34 L317.92 171.01 L318.58 171.65 L319.25 172.26 L319.92 172.86 L320.58 173.44 L321.25 173.99 L321.92 174.53 L322.58 175.04 L323.25 175.54 L323.92 176.02 L324.58 176.49 L325.25 176.94 L325.92 177.37 L326.59 177.79 L327.25 178.19 L327.92 178.58 L328.59 178.96 L329.25 179.32 L329.92 179.67 L330.59 180.01 L331.25 180.33 L331.92 180.65 L332.59 180.95 L333.26 181.24 L333.92 181.53 L334.59 181.80 L335.26 182.06 L335.92 182.32 L336.59 182.56 L337.26 182.80 L337.92 183.03 L338.59 183.25 L339.26 183.46 L339.93 183.66 L340.59 183.86 L341.26 184.05 L341.93 184.24 L342.59 184.42 L343.26 184.59 L343.93 184.75 L344.59 184.91 L345.26 185.07 L345.93 185.22 L346.60 185.36 L347.26 185.50 L347.93 185.64 L348.60 185.76 L349.26 185.89 L349.93 186.01 L350.60 186.13 L351.26 186.24 L351.93 186.35 L352.60 186.45 L353.27 186.55 L353.93 186.65 L354.60 186.74 L355.27 186.83 L355.93 186.92 L356.60 187.01 L357.27 187.09 L357.93 187.17 L358.60 187.24 L359.27 187.31 L359.93 187.39 L360.60 187.45 L361.27 187.52 L361.94 187.58 L362.60 187.64 L363.27 187.70 L363.94 187.76 L364.60 187.82 L365.27 187.87 L365.94 187.92 L366.60 187.97 L367.27 188.02 L367.94 188.06 L368.61 188.11 L369.27 188.15 L369.94 188.19 L370.61 188.23 L371.27 188.27 L371.94 188.31 L372.61 188.35 L373.27 188.38 L373.94 188.41 L374.61 188.45 L375.28 188.48 L375.94 188.51 L376.61 188.54 L377.28 188.56 L377.94 188.59 L378.61 188.62 L379.28 188.64 L379.94 188.67 L380.61 188.69 L381.28 188.71 L381.95 188.74 L382.61 188.76 L383.28 188.78 L383.95 188.80 L384.61 188.82 L385.28 188.83 L385.95 188.85 L386.61 188.87 L387.28 188.88 L387.95 188.90 L388.62 188.92 L389.28 188.93 L389.95 188.95 L390.62 188.96 L391.28 188.97 L391.95 188.98 L394.07 189.02 L396.19 189.06 L398.31 189.09 L400.43 189.11 L402.55 189.14 L404.68 189.16 L406.80 189.18 L408.92 189.20 L411.04 189.21 L413.16 189.23 L415.28 189.24 L417.40 189.25 L419.52 189.26 L421.64 189.27 L423.76 189.27 L425.89 189.28 L428.01 189.29 L430.13 189.29 L432.25 189.30 L434.37 189.30 L436.49 189.31 L438.61 189.31 L440.73 189.31 L442.85 189.32 L444.98 189.32 L447.10 189.32 L449.22 189.32 L451.34 189.32 L453.46 189.33 L455.58 189.33 L457.70 189.33 L459.82 189.33 L461.94 189.33 L464.06 189.33 L466.18 189.33 L468.31 189.33 L470.43 189.33 L472.55 189.34 L474.67 189.34 L476.79 189.34 L478.91 189.34 L481.03 189.34 L483.15 189.34 L485.27 189.34 L487.39 189.34 L489.52 189.34 L491.64 189.34 L493.76 189.34 L495.88 189.34 L498.00 189.34" stroke="#ff0000"/>
<path d="M285.90 105.04 L286.57 105.43 L287.23 106.25 L287.90 107.43 L288.57 108.89 L289.23 110.56 L289.90 112.39 L290.57 114.33 L291.24 116.35 L291.90 118.41 L292.57 120.50 L293.24 122.59 L293.90 124.67 L294.57 126.73 L295.24 128.75 L295.90 130.74 L296.57 132.68 L297.24 134.58 L297.91 136.42 L298.57 138.22 L299.24 139.96 L299.91 141.65 L300.57 143.29 L301.24 144.87 L301.91 146.41 L302.57 147.89 L303.24 149.33 L303.91 150.72 L304.58 152.06 L305.24 153.35 L305.91 154.61 L306.58 155.82 L307.24 156.98 L307.91 158.11 L308.58 159.20 L309.24 160.25 L309.91 161.26 L310.58 162.24 L311.25 163.19 L311.91 164.10 L312.58 164.98 L313.25 165.83 L313.91 166.65 L314.58 167.44 L315.25 168.21 L315.91 168.95 L316.58 169.66 L317.25 170.34 L317.92 171.01 L318.58 171.65 L319.25 172.26 L319.92 172.86 L320.58 173.44 L321.25 173.99 L321.92 174.53 L322.58 175.04 L323.25 175.54 L323.92 176.02 L324.58 176.49 L325.25 176.94 L325.92 177.37 L326.59 177.79 L327.25 178.19 L327.92 178.58 L328.59 178.96 L329.25 179.32 L329.92 179.67 L330.59 180.01 L331.25 180.33 L331.92 180.65 L332.59 180.95 L333.26 181.24 L333.92 181.53 L334.59 181.80 L335.26 182.06 L335.92 182.32 L336.59 182.56 L337.26 182.80 L337.92 183.03 L338.59 183.25 L339.26 183.46 L339.93 183.66 L340.59 183.86 L341.26 184.05 L341.93 184.24 L342.59 184.42 L343.26 184.59 L343.93 184.75 L344.59 184.91 L345.26 185.07 L345.93 185.22 L346.60 185.36 L347.26 185.50 L347.93 185.64 L348.60 185.76 L349.26 185.89 L349.93 186.01 L350.60 186.13 L351.26 186.24 L351.93 186.35 L352.60 186.45 L353.27 186.55 L353.93 186.65 L354.60 186.74 L355.27 186.83 L355.93 186.92 L356.60 187.01 L357.27 187.09 L357.93 187.17 L358.60 187.24 L359.27 187.31 L359.93 187.39 L360.60 187.45 L361.27 187.52 L361.94 187.58 L362.60 187.64 L363.27 187.70 L363.94 187.76 L364.60 187.82 L365.27 187.87 L365.94 187.92 L366.60 187.97 L367.27 188.02 L367.94 188.06 L368.61 188.11 L369.27 188.15 L369.94 188.19 L370.61 188.23 L371.27 188.27 L371.94 188.31 L372.61 188.35 L373.27 188.38 L373.94 188.41 L374.61 188.45 L375.28 188.48 L375.94 188.51 L376.61 188.54 L377.28 188.56 L377.94 188.59 L378.61 188.62 L379.28 188.64 L379.94 188.67 L380.61 188.69 L381.28 188.71 L381.95 188.74 L382.61 188.76 L383.28 188.78 L383.95 188.80 L384.61 188.82 L385.28 188.83 L385.95 188.85 L386.61 188.87 L387.28 188.88 L387.95 188.90 L388.62 188.92 L389.28 188.93 L389.95 188.95 L390.62 188.96 L391.28 188.97 L391.95 188.98 L394.07 189.02 L396.19 189.06 L398.31 189.09 L400.43 189.11 L402.55 189.14 L404.68 189.16 L406.80 189.18 L408.92 189.20 L411.04 189.21 L413.16 189.23 L415.28 189.24 L417.40 189.25 L419.52 189.26 L421.64 189.27 L423.76 189.27 L425.89 189.28 L428.01 189.29 L430.13 189.29 L432.25 189.30 L434.37 189.30 L436.49 189.31 L438.61 189.31 L440.73 189.31 L442.85 189.32 L444.98 189.32 L447.10 189.32 L449.22 189.32 L451.34 189.32 L453.46 189.33 L455.58 189.33 L457.70 189.33 L459.82 189.33 L461.94 189.33 L464.06 189.33 L466.18 189.33 L468.31 189.33 L470.43 189.33 L472.55 189.34 L474.67 189.34 L476.79 189.34 L478.91 189.34 L481.03 189.34 L483.15 189.34 L485.27 189.34 L487.39 189.34 L489.52 189.34 L491.64 189.34 L493.76 189.34 L495.88 189.34 L498.00 189.34" stroke="#00ff00" stroke-dasharray="6 3.4"/>
<path d="M285.90 105.04 L286.57 105.43 L287.23 106.25 L287.90 107.43 L288.57 108.89 L289.23 110.56 L289.90 112.39 L290.57 114.33 L291.24 116.35 L291.90 118.41 L292.57 120.50 L293.24 122.59 L293.90 124.67 L294.57 126.73 L295.24 128.75 L295.90 130.74 L296.57 132.68 L297.24 134.58 L297.91 136.42 L298.57 138.22 L299.24 139.96 L299.91 141.65 L300.57 143.29 L301.24 144.87 L301.91 146.41 L302.57 147.89 L303.24 149.33 L303.91 150.72 L304.58 152.06 L305.24 153.35 L305.91 154.61 L306.58 155.82 L307.24 156.98 L307.91 158.11 L308.58 159.20 L309.24 160.25 L309.91 161.26 L310.58 162.24 L311.25 163.19 L311.91 164.10 L312.58 164.98 L313.25 165.83 L313.91 166.65 L314.58 167.44 L315.25 168.21 L315.91 168.95 L316.58 169.66 L317.25 170.34 L317.92 171.01 L318.58 171.65 L319.25 172.26 L319.92 172.86 L320.58 173.44 L321.25 173.99 L321.92 174.53 L322.58 175.04 L323.25 175.54 L323.92 176.02 L324.58 176.49 L325.25 176.94 L325.92 177.37 L326.59 177.79 L327.25 178.19 L327.92 178.58 L328.59 178.96 L329.25 179.32 L329.92 179.67 L330.59 180.01 L331.25 180.33 L331.92 180.65 L332.59 180.95 L333.26 181.24 L333.92 181.53 L334.59 181.80 L335.26 182.06 L335.92 182.32 L336.59 182.56 L337.26 182.80 L337.92 183.03 L338.59 183.25 L339.26 183.46 L339.93 183.66 L340.59 183.86 L341.26 184.05 L341.93 184.24 L342.59 184.42 L343.26 184.59 L343.93 184.75 L344.59 184.91 L345.26 185.07 L345.93 185.22 L346.60 185.36 L347.26 185.50 L347.93 185.64 L348.60 185.76 L349.26 185.89 L349.93 186.01 L350.60 186.13 L351.26 186.24 L351.93 186.35 L352.60 186.45 L353.27 186.55 L353.93 186.65 L354.60 186.74 L355.27 186.83 L355.93 186.92 L356.60 187.01 L357.27 187.09 L357.93 187.17 L358.60 187.24 L359.27 187.31 L359.93 187.39 L360.60 187.45 L361.27 187.52 L361.94 187.58 L362.60 187.64 L363.27 187.70 L363.94 187.76 L364.60 187.82 L365.27 187.87 L365.94 187.92 L366.60 187.97 L367.27 188.02 L367.94 188.06 L368.61 188.11 L369.27 188.15 L369.94 188.19 L370.61 188.23 L371.27 188.27 L371.94 188.31 L372.61 188.35 L373.27 188.38 L373.94 188.41 L374.61 188.45 L375.28 188.48 L375.94 188.51 L376.61 188.54 L377.28 188.56 L377.94 188.59 L378.61 188.62 L379.28 188.64 L379.94 188.67 L380.61 188.69 L381.28 188.71 L381.95 188.74 L382.61 188.76 L383.28 188.78 L383.95 188.80 L384.61 188.82 L385.28 188.83 L385.95 188.85 L386.61 188.87 L387.28 188.88 L387.95 188.90 L388.62 188.92 L389.28 188.93 L389.95 188.95 L390.62 188.96 L391.28 188.97 L391.95 188.98 L394.07 189.02 L396.19 189.06 L398.31 189.09 L400.43 189.11 L402.55 189.14 L404.68 189.16 L406.80 189.18 L408.92 189.20 L411.04 189.21 L413.16 189.23 L415.28 189.24 L417.40 189.25 L419.52 189.26 L421.64 189.27 L423.76 189.27 L425.89 189.28 L428.01 189.29 L430.13 189.29 L432.25 189.30 L434.37 189.30 L436.49 189.31 L438.61 189.31 L440.73 189.31 L442.85 189.32 L444.98 189.32 L447.10 189.32 L449.22 189.32 L451.34 189.32 L453.46 189.33 L455.58 189.33 L457.70 189.33 L459.82 189.33 L461.94 189.33 L464.06 189.33 L466.18 189.33 L468.31 189.33 L470.43 189.33 L472.55 189.34 L474.67 189.34 L476.79 189.34 L478.91 189.34 L481.03 189.34 L483.15 189.34 L485.27 189.34 L487.39 189.34 L489.52 189.34 L491.64 189.34 L493.76 189.34 L495.88 189.34 L498.00 189.34" stroke="#008b00" stroke-dasharray="3 4.6"/>
<path d="M285.90 105.04 L286.57 105.43 L287.23 106.25 L287.90 107.43 L288.57 108.89 L289.23 110.56 L289.90 112.39 L290.57 114.33 L291.24 116.35 L291.90 118.41 L292.57 120.50 L293.24 122.59 L293.90 124.67 L294.57 126.73 L295.24 128.75 L295.90 130.74 L296.57 132.68 L297.24 134.58 L297.91 136.42 L298.57 138.22 L299.24 139.96 L299.91 141.65 L300.57 143.29 L301.24 144.87 L301.91 146.41 L302.57 147.89 L303.24 149.33 L303.91 150.72 L304.58 152.06 L305.24 153.35 L305.91 154.61 L306.58 155.82 L307.24 156.98 L307.91 158.11 L308.58 159.20 L309.24 160.25 L309.91 161.26 L310.58 162.24 L311.25 163.19 L311.91 164.10 L312.58 164.98 L313.25 165.83 L313.91 166.65 L314.58 167.44 L315.25 168.21 L315.91 168.95 L316.58 169.66 L317.25 170.34 L317.92 171.01 L318.58 171.65 L319.25 172.26 L319.92 172.86 L320.58 173.44 L321.25 173.99 L321.92 174.53 L322.58 175.04 L323.25 175.54 L323.92 176.02 L324.58 176.49 L325.25 176.94 L325.92 177.37 L326.59 177.79 L327.25 178.19 L327.92 178.58 L328.59 178.96 L329.25 179.32 L329.92 179.67 L330.59 180.01 L331.25 180.33 L331.92 180.65 L332.59 180.95 L333.26 181.24 L333.92 181.53 L334.59 181.80 L335.26 182.06 L335.92 182.32 L336.59 182.56 L337.26 182.80 L337.92 183.03 L338.59 183.25 L339.26 183.46 L339.93 183.66 L340.59 183.86 L341.26 184.05 L341.93 184.24 L342.59 184.42 L343.26 184.59 L343.93 184.75 L344.59 184.91 L345.26 185.07 L345.93 185.22 L346.60 185.36 L347.26 185.50 L347.93 185.64 L348.60 185.76 L349.26 185.89 L349.93 186.01 L350.60 186.13 L351.26 186.24 L351.93 186.35 L352.60 186.45 L353.27 186.55 L353.93 186.65 L354.60 186.74 L355.27 186.83 L355.93 186.92 L356.60 187.01 L357.27 187.09 L357.93 187.17 L358.60 187.24 L359.27 187.31 L359.93 187.39 L360.60 187.45 L361.27 187.52 L361.94 187.58 L362.60 187.64 L363.27 187.70 L363.94 187.76 L364.60 187.82 L365.27 187.87 L365.94 187.92 L366.60 187.97 L367.27 188.02 L367.94 188.06 L368.61 188.11 L369.27 188.15 L369.94 188.19 L370.61 188.23 L371.27 188.27 L371.94 188.31 L372.61 188.35 L373.27 188.38 L373.94 188.41 L374.61 188.45 L375.28 188.48 L375.94 188.51 L376.61 188.54 L377.28 188.56 L377.94 188.59 L378.61 188.62 L379.28 188.64 L379.94 188.67 L380.61 188.69 L381.28 188.71 L381.95 188.74 L382.61 188.76 L383.28 188.78 L383.95 188.80 L384.61 188.82 L385.28 188.83 L385.95 188.85 L386.61 188.87 L387.28 188.88 L387.95 188.90 L388.62 188.92 L389.28 188.93 L389.95 188.95 L390.62 188.96 L391.28 188.97 L391.95 188.98 L394.07 189.02 L396.19 189.06 L398.31 189.09 L400.43 189.11 L402.55 189.14 L404.68 189.16 L406.80 189.18 L408.92 189.20 L411.04 189.21 L413.16 189.23 L415.28 189.24 L417.40 189.25 L419.52 189.26 L421.64 189.27 L423.76 189.27 L425.89 189.28 L428.01 189.29 L430.13 189.29 L432.25 189.30 L434.37 189.30 L436.49 189.31 L438.61 189.31 L440.73 189.31 L442.85 189.32 L444.98 189.32 L447.10 189.32 L449.22 189.32 L451.34 189.32 L453.46 189.33 L455.58 189.33 L457.70 189.33 L459.82 189.33 L461.94 189.33 L464.06 189.33 L466.18 189.33 L468.31 189.33 L470.43 189.33 L472.55 189.34 L474.67 189.34 L476.79 189.34 L478.91 189.34 L481.03 189.34 L483.15 189.34 L485.27 189.34 L487.39 189.34 L489.52 189.34 L491.64 189.34 L493.76 189.34 L495.88 189.34 L498.00 189.34" stroke="#ff00ff" stroke-dasharray="1.5 1.9"/>
<path d="M285.90 105.04 L286.57 105.43 L287.23 106.25 L287.90 107.43 L288.57 108.89 L289.23 110.56 L289.90 112.39 L290.57 114.33 L291.24 116.35 L291.90 118.41 L292.57 120.50 L293.24 122.59 L293.90 124.67 L294.57 126.73 L295.24 128.75 L295.90 130.74 L296.57 132.68 L297.24 134.58 L297.91 136.42 L298.57 138.22 L299.24 139.96 L299.91 141.65 L300.57 143.29 L301.24 144.87 L301.91 146.41 L302.57 147.89 L303.24 149.33 L303.91 150.72 L304.58 152.06 L305.24 153.35 L305.91 154.61 L306.58 155.82 L307.24 156.98 L307.91 158.11 L308.58 159.20 L309.24 160.25 L309.91 161.26 L310.58 162.24 L311.25 163.19 L311.91 164.10 L312.58 164.98 L313.25 165.83 L313.91 166.65 L314.58 167.44 L315.25 168.21 L315.91 168.95 L316.58 169.66 L317.25 170.34 L317.92 171.01 L318.58 171.65 L319.25 172.26 L319.92 172.86 L320.58 173.44 L321.25 173.99 L321.92 174.53 L322.58 175.04 L323.25 175.54 L323.92 176.02 L324.58 176.49 L325.25 176.94 L325.92 177.37 L326.59 177.79 L327.25 178.19 L327.92 178.58 L328.59 178.96 L329.25 179.32 L329.92 179.67 L330.59 180.01 L331.25 180.33 L331.92 180.65 L332.59 180.95 L333.26 181.24 L333.92 181.53 L334.59 181.80 L335.26 182.06 L335.92 182.32 L336.59 182.56 L337.26 182.80 L337.92 183.03 L338.59 183.25 L339.26 183.46 L339.93 183.66 L340.59 183.86 L341.26 184.05 L341.93 184.24 L342.59 184.42 L343.26 184.59 L343.93 184.75 L344.59 184.91 L345.26 185.07 L345.93 185.22 L346.60 185.36 L347.26 185.50 L347.93 185.64 L348.60 185.76 L349.26 185.89 L349.93 186.01 L350.60 186.13 L351.26 186.24 L351.93 186.35 L352.60 186.45 L353.27 186.55 L353.93 186.65 L354.60 186.74 L355.27 186.83 L355.93 186.92 L356.60 187.01 L357.27 187.09 L357.93 187.17 L358.60 187.24 L359.27 187.31 L359.93 187.39 L360.60 187.45 L361.27 187.52 L361.94 187.58 L362.60 187.64 L363.27 187.70 L363.94 187.76 L364.60 187.82 L365.27 187.87 L365.94 187.92 L366.60 187.97 L367.27 188.02 L367.94 188.06 L368.61 188.11 L369.27 188.15 L369.94 188.19 L370.61 188.23 L371.27 188.27 L371.94 188.31 L372.61 188.35 L373.27 188.38 L373.94 188.41 L374.61 188.45 L375.28 188.48 L375.94 188.51 L376.61 188.54 L377.28 188.56 L377.94 188.59 L378.61 188.62 L379.28 188.64 L379.94 188.67 L380.61 188.69 L381.28 188.71 L381.95 188.74 L382.61 188.76 L383.28 188.78 L383.95 188.80 L384.61 188.82 L385.28 188.83 L385.95 188.85 L386.61 188.87 L387.28 188.88 L387.95 188.90 L388.62 188.92 L389.28 188.93 L389.95 188.95 L390.62 188.96 L391.28 188.97 L391.95 188.98 L394.07 189.02 L396.19 189.06 L398.31 189.09 L400.43 189.11 L402.55 189.14 L404.68 189.16 L406.80 189.18 L408.92 189.20 L411.04 189.21 L413.16 189.23 L415.28 189.24 L417.40 189.25 L419.52 189.26 L421.64 189.27 L423.76 189.27 L425.89 189.28 L428.01 189.29 L430.13 189.29 L432.25 189.30 L434.37 189.30 L436.49 189.31 L438.61 189.31 L440.73 189.31 L442.85 189.32 L444.98 189.32 L447.10 189.32 L449.22 189.32 L451.34 189.32 L453.46 189.33 L455.58 189.33 L457.70 189.33 L459.82 189.33 L461.94 189.33 L464.06 189.33 L466.18 189.33 L468.31 189.33 L470.43 189.33 L472.55 189.34 L474.67 189.34 L476.79 189.34 L478.91 189.34 L481.03 189.34 L483.15 189.34 L485.27 189.34 L487.39 189.34 L489.52 189.34 L491.64 189.34 L493.76 189.34 L495.88 189.34 L498.00 189.34" stroke="#000000" stroke-dasharray="11 2.2 1.5 2.2"/>
<path d="M285.90 105.04 L286.57 105.43 L287.23 106.25 L287.90 107.43 L288.57 108.89 L289.23 110.56 L289.90 112.39 L290.57 114.33 L291.24 116.35 L291.90 118.41 L292.57 120.50 L293.24 122.59 L293.90 124.67 L294.57 126.73 L295.24 128.75 L295.90 130.74 L296.57 132.68 L297.24 134.58 L297.91 136.42 L298.57 138.22 L299.24 139.96 L299.91 141.65 L300.57 143.29 L301.24 144.87 L301.91 146.41 L302.57 147.89 L303.24 149.33 L303.91 150.72 L304.58 152.06 L305.24 153.35 L305.91 154.61 L306.58 155.82 L307.24 156.98 L307.91 158.11 L308.58 159.20 L309.24 160.25 L309.91 161.26 L310.58 162.24 L311.25 163.19 L311.91 164.10 L312.58 164.98 L313.25 165.83 L313.91 166.65 L314.58 167.44 L315.25 168.21 L315.91 168.95 L316.58 169.66 L317.25 170.34 L317.92 171.01 L318.58 171.65 L319.25 172.26 L319.92 172.86 L320.58 173.44 L321.25 173.99 L321.92 174.53 L322.58 175.04 L323.25 175.54 L323.92 176.02 L324.58 176.49 L325.25 176.94 L325.92 177.37 L326.59 177.79 L327.25 178.19 L327.92 178.58 L328.59 178.96 L329.25 179.32 L329.92 179.67 L330.59 180.01 L331.25 180.33 L331.92 180.65 L332.59 180.95 L333.26 181.24 L333.92 181.53 L334.59 181.80 L335.26 182.06 L335.92 182.32 L336.59 182.56 L337.26 182.80 L337.92 183.03 L338.59 183.25 L339.26 183.46 L339.93 183.66 L340.59 183.86 L341.26 184.05 L341.93 184.24 L342.59 184.42 L343.26 184.59 L343.93 184.75 L344.59 184.91 L345.26 185.07 L345.93 185.22 L346.60 185.36 L347.26 185.50 L347.93 185.64 L348.60 185.76 L349.26 185.89 L349.93 186.01 L350.60 186.13 L351.26 186.24 L351.93 186.35 L352.60 186.45 L353.27 186.55 L353.93 186.65 L354.60 186.74 L355.27 186.83 L355.93 186.92 L356.60 187.01 L357.27 187.09 L357.93 187.17 L358.60 187.24 L359.27 187.31 L359.93 187.39 L360.60 187.45 L361.27 187.52 L361.94 187.58 L362.60 187.64 L363.27 187.70 L363.94 187.76 L364.60 187.82 L365.27 187.87 L365.94 187.92 L366.60 187.97 L367.27 188.02 L367.94 188.06 L368.61 188.11 L369.27 188.15 L369.94 188.19 L370.61 188.23 L371.27 188.27 L371.94 188.31 L372.61 188.35 L373.27 188.38 L373.94 188.41 L374.61 188.45 L375.28 188.48 L375.94 188.51 L376.61 188.54 L377.28 188.56 L377.94 188.59 L378.61 188.62 L379.28 188.64 L379.94 188.67 L380.61 188.69 L381.28 188.71 L381.95 188.74 L382.61 188.76 L383.28 188.78 L383.95 188.80 L384.61 188.82 L385.28 188.83 L385.95 188.85 L386.61 188.87 L387.28 188.88 L387.95 188.90 L388.62 188.92 L389.28 188.93 L389.95 188.95 L390.62 188.96 L391.28 188.97 L391.95 188.98 L394.07 189.02 L396.19 189.06 L398.31 189.09 L400.43 189.11 L402.55 189.14 L404.68 189.16 L406.80 189.18 L408.92 189.20 L411.04 189.21 L413.16 189.23 L415.28 189.24 L417.40 189.25 L419.52 189.26 L421.64 189.27 L423.76 189.27 L425.89 189.28 L428.01 189.29 L430.13 189.29 L432.25 189.30 L434.37 189.30 L436.49 189.31 L438.61 189.31 L440.73 189.31 L442.85 189.32 L444.98 189.32 L447.10 189.32 L449.22 189.32 L451.34 189.32 L453.46 189.33 L455.58 189.33 L457.70 189.33 L459.82 189.33 L461.94 189.33 L464.06 189.33 L466.18 189.33 L468.31 189.33 L470.43 189.33 L472.55 189.34 L474.67 189.34 L476.79 189.34 L478.91 189.34 L481.03 189.34 L483.15 189.34 L485.27 189.34 L487.39 189.34 L489.52 189.34 L491.64 189.34 L493.76 189.34 L495.88 189.34 L498.00 189.34" stroke="#0000ff" stroke-dasharray="5.5 4 1.5 4.4"/>
</g>
<rect x="70.9" y="20.7" width="209.70000000000002" height="185.5" fill="none" stroke="#000" stroke-width="1.4"/>
<rect x="285.9" y="20.7" width="212.10000000000002" height="185.5" fill="none" stroke="#000" stroke-width="1.4"/>
<rect x="141.6" y="58.0" width="111.6" height="69.0" fill="#fff" stroke="none"/>
<g clip-path="url(#ci)" fill="none" stroke-width="2">
<path d="M141.60 93.16 L141.79 93.16 L141.97 93.16 L142.16 93.16 L142.35 93.16 L142.53 93.16 L142.72 93.16 L142.90 93.16 L143.09 93.16 L143.28 93.16 L143.46 93.16 L143.65 93.16 L143.84 93.16 L144.02 93.16 L144.21 93.16 L144.39 93.16 L144.58 93.16 L144.77 93.16 L144.95 93.16 L145.14 93.16 L145.33 93.16 L145.51 93.16 L145.70 93.16 L145.89 93.16 L146.07 93.16 L146.26 93.16 L146.44 93.16 L146.63 93.16 L146.82 93.16 L147.00 93.16 L147.19 93.16 L147.38 93.16 L147.56 93.16 L147.75 93.16 L147.93 93.16 L148.12 93.16 L148.31 93.16 L148.49 93.16 L148.68 93.16 L148.87 93.16 L149.05 93.16 L149.24 93.16 L149.43 93.16 L149.61 93.16 L149.80 93.16 L149.98 93.16 L150.17 93.16 L150.36 93.16 L150.54 93.16 L150.73 93.16 L150.92 93.16 L151.10 93.16 L151.29 93.16 L151.47 93.16 L151.66 93.16 L151.85 93.16 L152.03 93.16 L152.22 93.16 L152.41 93.16 L152.59 93.16 L152.78 93.16 L152.96 93.16 L153.15 93.16 L153.34 93.16 L153.52 93.16 L153.71 93.16 L153.90 93.16 L154.08 93.16 L154.27 93.16 L154.46 93.16 L154.64 93.16 L154.83 93.16 L155.01 93.16 L155.20 93.16 L155.39 93.16 L155.57 93.16 L155.76 93.16 L155.95 93.16 L156.13 93.16 L156.32 93.16 L156.50 93.16 L156.69 93.16 L156.88 93.16 L157.06 93.16 L157.25 93.16 L157.44 93.16 L157.62 93.16 L157.81 93.16 L158.00 93.16 L158.18 93.16 L158.37 93.16 L158.55 93.16 L158.74 93.16 L158.93 93.16 L159.11 93.16 L159.30 93.16 L159.49 93.16 L159.67 93.16 L159.86 93.16 L160.04 93.16 L160.23 93.16 L160.42 93.16 L160.60 93.16 L160.79 93.16 L160.98 93.17 L161.16 93.17 L161.35 93.17 L161.54 93.17 L161.72 93.17 L161.91 93.17 L162.09 93.18 L162.28 93.18 L162.47 93.18 L162.65 93.18 L162.84 93.19 L163.03 93.19 L163.21 93.19 L163.40 93.20 L163.58 93.20 L163.77 93.20 L163.96 93.20 L164.14 93.21 L164.33 93.21 L164.52 93.21 L164.70 93.22 L164.89 93.22 L165.08 93.22 L165.26 93.23 L165.45 93.23 L165.63 93.24 L165.82 93.25 L166.01 93.25 L166.19 93.26 L166.38 93.27 L166.57 93.28 L166.75 93.29 L166.94 93.30 L167.12 93.31 L167.31 93.32 L167.50 93.33 L167.68 93.35 L167.87 93.36 L168.06 93.37 L168.24 93.39 L168.43 93.40 L168.62 93.42 L168.80 93.43 L168.99 93.45 L169.17 93.46 L169.36 93.48 L169.55 93.49 L169.73 93.51 L169.92 93.53 L170.11 93.54 L170.29 93.56 L170.48 93.58 L170.66 93.60 L170.85 93.61 L171.04 93.63 L171.22 93.65 L171.41 93.67 L171.60 93.68 L171.78 93.70 L171.97 93.72 L172.15 93.74 L172.34 93.75 L172.53 93.77 L172.71 93.79 L172.90 93.81 L173.09 93.82 L173.27 93.84 L173.46 93.87 L173.65 93.89 L173.83 93.91 L174.02 93.94 L174.20 93.96 L174.39 93.99 L174.58 94.02 L174.76 94.05 L174.95 94.08 L175.14 94.11 L175.32 94.13 L175.51 94.16 L175.69 94.19 L175.88 94.22 L176.07 94.25 L176.25 94.28 L176.44 94.31 L176.63 94.34 L176.81 94.36 L177.00 94.39 L177.19 94.41 L177.37 94.43 L177.56 94.46 L177.74 94.48 L177.93 94.50 L178.12 94.51 L178.30 94.53 L178.49 94.54 L178.68 94.55 L178.86 94.56 L179.05 94.57 L179.23 94.57 L179.42 94.57 L179.61 94.57 L179.79 94.55 L179.98 94.54 L180.17 94.51 L180.35 94.48 L180.54 94.44 L180.73 94.39 L180.91 94.34 L181.10 94.28 L181.28 94.22 L181.47 94.15 L181.66 94.07 L181.84 94.00 L182.03 93.91 L182.22 93.83 L182.40 93.74 L182.59 93.64 L182.77 93.54 L182.96 93.44 L183.15 93.30 L183.33 93.11 L183.52 92.88 L183.71 92.63 L183.89 92.36 L184.08 92.08 L184.27 91.79 L184.45 91.50 L184.64 91.21 L184.82 90.92 L185.01 90.60 L185.20 90.27 L185.38 89.94 L185.57 89.59 L185.76 89.23 L185.94 88.86 L186.13 88.49 L186.31 88.11 L186.50 87.72 L186.69 87.34 L186.87 86.95 L187.06 86.56 L187.25 86.17 L187.43 85.78 L187.62 85.39 L187.81 85.01 L187.99 84.63 L188.18 84.26 L188.36 83.89 L188.55 83.52 L188.74 83.14 L188.92 82.75 L189.11 82.35 L189.30 81.94 L189.48 81.51 L189.67 81.05 L189.85 80.57 L190.04 80.05 L190.23 79.49 L190.41 78.91 L190.60 78.31 L190.79 77.69 L190.97 77.05 L191.16 76.41 L191.34 75.76 L191.53 75.11 L191.72 74.46 L191.90 73.83 L192.09 73.21 L192.28 72.60 L192.46 72.02 L192.65 71.47 L192.84 70.92 L193.02 70.39 L193.21 69.86 L193.39 69.34 L193.58 68.83 L193.77 68.32 L193.95 67.82 L194.14 67.33 L194.33 66.84 L194.51 66.36 L194.70 65.88 L194.88 65.41 L195.07 64.93 L195.26 64.41 L195.44 63.90 L195.63 63.43 L195.82 63.03 L196.00 62.74 L196.19 62.52 L196.38 62.30 L196.56 62.12 L196.75 61.99 L196.93 61.92 L197.12 61.93 L197.31 61.99 L197.49 62.09 L197.68 62.21 L197.87 62.34 L198.05 62.48 L198.24 62.63 L198.42 62.81 L198.61 63.01 L198.80 63.23 L198.98 63.47 L199.17 63.72 L199.36 63.97 L199.54 64.23 L199.73 64.50 L199.92 64.80 L200.10 65.12 L200.29 65.46 L200.47 65.81 L200.66 66.16 L200.85 66.52 L201.03 66.87 L201.22 67.22 L201.41 67.55 L201.59 67.87 L201.78 68.16 L201.96 68.43 L202.15 68.66 L202.34 68.87 L202.52 69.08 L202.71 69.27 L202.90 69.47 L203.08 69.66 L203.27 69.84 L203.46 70.01 L203.64 70.17 L203.83 70.33 L204.01 70.47 L204.20 70.61 L204.39 70.73 L204.57 70.84 L204.76 70.93 L204.95 71.01 L205.13 71.08 L205.32 71.15 L205.50 71.21 L205.69 71.27 L205.88 71.33 L206.06 71.39 L206.25 71.44 L206.44 71.49 L206.62 71.54 L206.81 71.58 L206.99 71.62 L207.18 71.65 L207.37 71.68 L207.55 71.70 L207.74 71.72 L207.93 71.73 L208.11 71.74 L208.30 71.74 L208.49 71.75 L208.67 71.75 L208.86 71.75 L209.04 71.76 L209.23 71.76 L209.42 71.77 L209.60 71.77 L209.79 71.77 L209.98 71.77 L210.16 71.78 L210.35 71.78 L210.53 71.78 L210.72 71.78 L210.91 71.79 L211.09 71.79 L211.28 71.79 L211.47 71.79 L211.65 71.79 L211.84 71.79 L212.03 71.80 L212.21 71.80 L212.40 71.80 L212.58 71.80 L212.77 71.80 L212.96 71.80 L213.14 71.80 L213.33 71.80 L213.52 71.80 L213.70 71.80 L213.89 71.80 L214.07 71.80 L214.26 71.80 L214.45 71.80 L214.63 71.80 L214.82 71.80 L215.01 71.80 L215.19 71.80 L215.38 71.80 L215.57 71.80 L215.75 71.80 L215.94 71.80 L216.12 71.80 L216.31 71.80 L216.50 71.80 L216.68 71.80 L216.87 71.80 L217.06 71.80 L217.24 71.80 L217.43 71.80 L217.61 71.80 L217.80 71.80 L217.99 71.80 L218.17 71.80 L218.36 71.80 L218.55 71.80 L218.73 71.80 L218.92 71.80 L219.11 71.80 L219.29 71.80 L219.48 71.80 L219.66 71.80 L219.85 71.80 L220.04 71.80 L220.22 71.80 L220.41 71.80 L220.60 71.80 L220.78 71.80 L220.97 71.80 L221.15 71.80 L221.34 71.80 L221.53 71.80 L221.71 71.80 L221.90 71.80 L222.09 71.80 L222.27 71.80 L222.46 71.80 L222.65 71.80 L222.83 71.80 L223.02 71.80 L223.20 71.80 L223.39 71.80 L223.58 71.80 L223.76 71.80 L223.95 71.80 L224.14 71.80 L224.32 71.80 L224.51 71.80 L224.69 71.80 L224.88 71.80 L225.07 71.80 L225.25 71.80 L225.44 71.80 L225.63 71.80 L225.81 71.80 L226.00 71.80 L226.18 71.80 L226.37 71.80 L226.56 71.80 L226.74 71.80 L226.93 71.80 L227.12 71.80 L227.30 71.80 L227.49 71.80 L227.68 71.80 L227.86 71.80 L228.05 71.80 L228.23 71.80 L228.42 71.80 L228.61 71.80 L228.79 71.80 L228.98 71.80 L229.17 71.80 L229.35 71.80 L229.54 71.80 L229.72 71.80 L229.91 71.80 L230.10 71.80 L230.28 71.80 L230.47 71.80 L230.66 71.80 L230.84 71.80 L231.03 71.80 L231.22 71.80 L231.40 71.80 L231.59 71.80 L231.77 71.80 L231.96 71.80 L232.15 71.80 L232.33 71.80 L232.52 71.80 L232.71 71.80 L232.89 71.80 L233.08 71.80 L233.26 71.80 L233.45 71.80 L233.64 71.80 L233.82 71.80 L234.01 71.80 L234.20 71.80 L234.38 71.80 L234.57 71.80 L234.76 71.80 L234.94 71.80 L235.13 71.80 L235.31 71.80 L235.50 71.80 L235.69 71.80 L235.87 71.80 L236.06 71.80 L236.25 71.80 L236.43 71.80 L236.62 71.80 L236.80 71.80 L236.99 71.80 L237.18 71.80 L237.36 71.80 L237.55 71.80 L237.74 71.80 L237.92 71.80 L238.11 71.80 L238.30 71.80 L238.48 71.80 L238.67 71.80 L238.85 71.80 L239.04 71.80 L239.23 71.80 L239.41 71.80 L239.60 71.80 L239.79 71.80 L239.97 71.80 L240.16 71.80 L240.34 71.80 L240.53 71.80 L240.72 71.80 L240.90 71.80 L241.09 71.80 L241.28 71.80 L241.46 71.80 L241.65 71.80 L241.84 71.80 L242.02 71.80 L242.21 71.80 L242.39 71.80 L242.58 71.80 L242.77 71.80 L242.95 71.80 L243.14 71.80 L243.33 71.80 L243.51 71.80 L243.70 71.80 L243.88 71.80 L244.07 71.80 L244.26 71.80 L244.44 71.80 L244.63 71.80 L244.82 71.80 L245.00 71.80 L245.19 71.80 L245.37 71.80 L245.56 71.80 L245.75 71.80 L245.93 71.80 L246.12 71.80 L246.31 71.80 L246.49 71.80 L246.68 71.80 L246.87 71.80 L247.05 71.80 L247.24 71.80 L247.42 71.80 L247.61 71.80 L247.80 71.80 L247.98 71.80 L248.17 71.80 L248.36 71.80 L248.54 71.80 L248.73 71.80 L248.91 71.80 L249.10 71.80 L249.29 71.80 L249.47 71.80 L249.66 71.80 L249.85 71.80 L250.03 71.80 L250.22 71.80 L250.41 71.80 L250.59 71.80 L250.78 71.80 L250.96 71.80 L251.15 71.80 L251.34 71.80 L251.52 71.80 L251.71 71.80 L251.90 71.80 L252.08 71.80 L252.27 71.80 L252.45 71.80 L252.64 71.80 L252.83 71.80 L253.01 71.80 L253.20 71.80" stroke="#ff0000"/>
<path d="M141.60 93.16 L141.79 93.16 L141.97 93.16 L142.16 93.16 L142.35 93.16 L142.53 93.16 L142.72 93.16 L142.90 93.16 L143.09 93.16 L143.28 93.16 L143.46 93.16 L143.65 93.16 L143.84 93.16 L144.02 93.16 L144.21 93.16 L144.39 93.16 L144.58 93.16 L144.77 93.16 L144.95 93.16 L145.14 93.16 L145.33 93.16 L145.51 93.16 L145.70 93.16 L145.89 93.16 L146.07 93.16 L146.26 93.16 L146.44 93.16 L146.63 93.16 L146.82 93.16 L147.00 93.16 L147.19 93.16 L147.38 93.16 L147.56 93.16 L147.75 93.16 L147.93 93.16 L148.12 93.16 L148.31 93.16 L148.49 93.16 L148.68 93.16 L148.87 93.16 L149.05 93.16 L149.24 93.16 L149.43 93.16 L149.61 93.16 L149.80 93.16 L149.98 93.16 L150.17 93.16 L150.36 93.16 L150.54 93.16 L150.73 93.16 L150.92 93.16 L151.10 93.16 L151.29 93.16 L151.47 93.16 L151.66 93.16 L151.85 93.16 L152.03 93.16 L152.22 93.16 L152.41 93.16 L152.59 93.16 L152.78 93.16 L152.96 93.16 L153.15 93.16 L153.34 93.16 L153.52 93.16 L153.71 93.16 L153.90 93.16 L154.08 93.16 L154.27 93.16 L154.46 93.16 L154.64 93.16 L154.83 93.16 L155.01 93.16 L155.20 93.16 L155.39 93.16 L155.57 93.16 L155.76 93.16 L155.95 93.16 L156.13 93.16 L156.32 93.16 L156.50 93.16 L156.69 93.16 L156.88 93.16 L157.06 93.16 L157.25 93.16 L157.44 93.16 L157.62 93.16 L157.81 93.16 L158.00 93.16 L158.18 93.16 L158.37 93.16 L158.55 93.16 L158.74 93.16 L158.93 93.16 L159.11 93.16 L159.30 93.16 L159.49 93.16 L159.67 93.16 L159.86 93.16 L160.04 93.16 L160.23 93.16 L160.42 93.16 L160.60 93.16 L160.79 93.16 L160.98 93.17 L161.16 93.17 L161.35 93.17 L161.54 93.17 L161.72 93.17 L161.91 93.17 L162.09 93.18 L162.28 93.18 L162.47 93.18 L162.65 93.18 L162.84 93.19 L163.03 93.19 L163.21 93.19 L163.40 93.20 L163.58 93.20 L163.77 93.20 L163.96 93.20 L164.14 93.21 L164.33 93.21 L164.52 93.21 L164.70 93.22 L164.89 93.22 L165.08 93.22 L165.26 93.23 L165.45 93.23 L165.63 93.24 L165.82 93.25 L166.01 93.25 L166.19 93.26 L166.38 93.27 L166.57 93.28 L166.75 93.29 L166.94 93.30 L167.12 93.31 L167.31 93.32 L167.50 93.33 L167.68 93.35 L167.87 93.36 L168.06 93.37 L168.24 93.39 L168.43 93.40 L168.62 93.42 L168.80 93.43 L168.99 93.45 L169.17 93.46 L169.36 93.48 L169.55 93.49 L169.73 93.51 L169.92 93.53 L170.11 93.54 L170.29 93.56 L170.48 93.58 L170.66 93.60 L170.85 93.61 L171.04 93.63 L171.22 93.65 L171.41 93.67 L171.60 93.68 L171.78 93.70 L171.97 93.72 L172.15 93.74 L172.34 93.75 L172.53 93.77 L172.71 93.79 L172.90 93.81 L173.09 93.82 L173.27 93.84 L173.46 93.87 L173.65 93.89 L173.83 93.91 L174.02 93.94 L174.20 93.96 L174.39 93.99 L174.58 94.02 L174.76 94.05 L174.95 94.08 L175.14 94.11 L175.32 94.13 L175.51 94.16 L175.69 94.19 L175.88 94.22 L176.07 94.25 L176.25 94.28 L176.44 94.31 L176.63 94.34 L176.81 94.36 L177.00 94.39 L177.19 94.41 L177.37 94.43 L177.56 94.46 L177.74 94.48 L177.93 94.50 L178.12 94.51 L178.30 94.53 L178.49 94.54 L178.68 94.55 L178.86 94.56 L179.05 94.57 L179.23 94.57 L179.42 94.57 L179.61 94.57 L179.79 94.55 L179.98 94.54 L180.17 94.51 L180.35 94.48 L180.54 94.44 L180.73 94.39 L180.91 94.34 L181.10 94.28 L181.28 94.22 L181.47 94.15 L181.66 94.07 L181.84 94.00 L182.03 93.91 L182.22 93.83 L182.40 93.74 L182.59 93.64 L182.77 93.54 L182.96 93.44 L183.15 93.30 L183.33 93.11 L183.52 92.88 L183.71 92.63 L183.89 92.36 L184.08 92.08 L184.27 91.79 L184.45 91.50 L184.64 91.21 L184.82 90.92 L185.01 90.60 L185.20 90.27 L185.38 89.94 L185.57 89.59 L185.76 89.23 L185.94 88.86 L186.13 88.49 L186.31 88.11 L186.50 87.72 L186.69 87.34 L186.87 86.95 L187.06 86.56 L187.25 86.17 L187.43 85.78 L187.62 85.39 L187.81 85.01 L187.99 84.63 L188.18 84.26 L188.36 83.89 L188.55 83.52 L188.74 83.14 L188.92 82.75 L189.11 82.35 L189.30 81.94 L189.48 81.51 L189.67 81.05 L189.85 80.57 L190.04 80.05 L190.23 79.49 L190.41 78.91 L190.60 78.31 L190.79 77.69 L190.97 77.05 L191.16 76.41 L191.34 75.76 L191.53 75.11 L191.72 74.46 L191.90 73.83" stroke="#000" stroke-dasharray="9.5 2.4 2.2 2.4"/>
<path d="M191.90 73.83 L192.09 73.21 L192.28 72.60 L192.46 72.02 L192.65 71.47 L192.84 70.92 L193.02 70.43 L193.21 70.01 L193.39 69.61 L193.58 69.21 L193.77 68.82 L193.95 68.44 L194.14 68.07 L194.33 67.71 L194.51 67.36 L194.70 67.02 L194.88 66.68 L195.07 66.34 L195.26 65.98 L195.44 65.62 L195.63 65.31 L195.82 65.06 L196.00 64.93 L196.19 64.86 L196.38 64.81 L196.56 64.79 L196.75 64.83 L196.93 64.92 L197.12 65.09 L197.31 65.31 L197.49 65.57 L197.68 65.85 L197.87 66.15 L198.05 66.46 L198.24 66.77 L198.42 67.11 L198.61 67.48 L198.80 67.87 L198.98 68.27 L199.17 68.68 L199.36 69.10 L199.54 69.52 L199.73 69.96 L199.92 70.42 L200.10 70.90 L200.29 71.40 L200.47 71.91 L200.66 72.42 L200.85 72.94 L201.03 73.45 L201.22 73.96 L201.41 74.46 L201.59 74.94 L201.78 75.40 L201.96 75.84 L202.15 76.25 L202.34 76.64 L202.52 77.03 L202.71 77.42 L202.90 77.80 L203.08 78.18 L203.27 78.55 L203.46 78.92 L203.64 79.29 L203.83 79.64 L204.01 80.00 L204.20 80.34 L204.39 80.67" stroke="#000"/>
<path d="M204.39 80.67 L204.57 81.00 L204.76 81.32 L204.95 81.63 L205.13 81.93 L205.32 82.23 L205.50 82.53 L205.69 82.84 L205.88 83.14 L206.06 83.44 L206.25 83.75 L206.44 84.05 L206.62 84.36 L206.81 84.66 L206.99 84.96 L207.18 85.26 L207.37 85.56 L207.55 85.86 L207.74 86.16 L207.93 86.46 L208.11 86.75 L208.30 87.05 L208.49 87.35 L208.67 87.65 L208.86 87.96 L209.04 88.27 L209.23 88.58 L209.42 88.89 L209.60 89.21 L209.79 89.53 L209.98 89.85 L210.16 90.17 L210.35 90.50 L210.53 90.83 L210.72 91.16 L210.91 91.49 L211.09 91.83 L211.28 92.16 L211.47 92.50 L211.65 92.85 L211.84 93.19 L212.03 93.54 L212.21 93.88 L212.40 94.23 L212.58 94.59 L212.77 94.94 L212.96 95.29 L213.14 95.65 L213.33 96.01 L213.52 96.37 L213.70 96.73 L213.89 97.09 L214.07 97.46 L214.26 97.82 L214.45 98.19 L214.63 98.56 L214.82 98.92 L215.01 99.29 L215.19 99.66 L215.38 100.03 L215.57 100.40 L215.75 100.77 L215.94 101.14 L216.12 101.51 L216.31 101.88 L216.50 102.26 L216.68 102.62 L216.87 102.99 L217.06 103.36 L217.24 103.73 L217.43 104.10 L217.61 104.46 L217.80 104.83 L217.99 105.19 L218.17 105.55 L218.36 105.91 L218.55 106.27 L218.73 106.63 L218.92 106.98 L219.11 107.34 L219.29 107.69 L219.48 108.03 L219.66 108.38 L219.85 108.72 L220.04 109.06 L220.22 109.39 L220.41 109.73 L220.60 110.05 L220.78 110.38 L220.97 110.70 L221.15 111.02 L221.34 111.33 L221.53 111.64 L221.71 111.95 L221.90 112.25 L222.09 112.55 L222.27 112.84 L222.46 113.13 L222.65 113.41 L222.83 113.69 L223.02 113.96 L223.20 114.23 L223.39 114.49 L223.58 114.75 L223.76 115.00 L223.95 115.25 L224.14 115.49 L224.32 115.73 L224.51 115.96 L224.69 116.18 L224.88 116.40 L225.07 116.61 L225.25 116.82 L225.44 117.02 L225.63 117.22 L225.81 117.41 L226.00 117.59 L226.18 117.77 L226.37 117.94 L226.56 118.11 L226.74 118.27 L226.93 118.43 L227.12 118.58 L227.30 118.72 L227.49 118.86 L227.68 118.99 L227.86 119.12 L228.05 119.24 L228.23 119.36 L228.42 119.47 L228.61 119.58 L228.79 119.68 L228.98 119.78 L229.17 119.88 L229.35 119.96 L229.54 120.05 L229.72 120.13 L229.91 120.20 L230.10 120.28 L230.28 120.34 L230.47 120.41 L230.66 120.47 L230.84 120.52 L231.03 120.58 L231.22 120.63 L231.40 120.67 L231.59 120.72 L231.77 120.76 L231.96 120.79 L232.15 120.83 L232.33 120.86 L232.52 120.89 L232.71 120.92 L232.89 120.95 L233.08 120.97 L233.26 120.99 L233.45 121.01 L233.64 121.03 L233.82 121.05 L234.01 121.06 L234.20 121.08 L234.38 121.09 L234.57 121.10 L234.76 121.11 L234.94 121.12 L235.13 121.13 L235.31 121.14 L235.50 121.14 L235.69 121.15 L235.87 121.16 L236.06 121.16 L236.25 121.16 L236.43 121.17 L236.62 121.17 L236.80 121.17 L236.99 121.18 L237.18 121.18 L237.36 121.18 L237.55 121.18 L237.74 121.18 L237.92 121.19 L238.11 121.19 L238.30 121.19 L238.48 121.19 L238.67 121.19 L238.85 121.19 L239.04 121.19 L239.23 121.19 L239.41 121.19 L239.60 121.19 L239.79 121.19 L239.97 121.19 L240.16 121.19 L240.34 121.19 L240.53 121.19 L240.72 121.19 L240.90 121.19 L241.09 121.19 L241.28 121.19 L241.46 121.19 L241.65 121.19 L241.84 121.19 L242.02 121.19 L242.21 121.19 L242.39 121.19 L242.58 121.19 L242.77 121.19 L242.95 121.19 L243.14 121.19 L243.33 121.19 L243.51 121.19 L243.70 121.19 L243.88 121.19 L244.07 121.19 L244.26 121.19 L244.44 121.19 L244.63 121.19 L244.82 121.19 L245.00 121.19 L245.19 121.19 L245.37 121.19 L245.56 121.19 L245.75 121.19 L245.93 121.19 L246.12 121.19 L246.31 121.19 L246.49 121.19 L246.68 121.19 L246.87 121.19 L247.05 121.19 L247.24 121.19 L247.42 121.19 L247.61 121.19 L247.80 121.19 L247.98 121.19 L248.17 121.19 L248.36 121.19 L248.54 121.19 L248.73 121.19 L248.91 121.19 L249.10 121.19 L249.29 121.19 L249.47 121.19 L249.66 121.19 L249.85 121.19 L250.03 121.19 L250.22 121.19 L250.41 121.19 L250.59 121.19 L250.78 121.19 L250.96 121.19 L251.15 121.19 L251.34 121.19 L251.52 121.19 L251.71 121.19 L251.90 121.19 L252.08 121.19 L252.27 121.19 L252.45 121.19 L252.64 121.19 L252.83 121.19 L253.01 121.19 L253.20 121.19" stroke="#000" stroke-dasharray="9.5 2.4 2.2 2.4" stroke-dashoffset="9.5"/>
</g>
<rect x="141.6" y="58.0" width="111.6" height="69.0" fill="none" stroke="#000" stroke-width="1.3"/>
<path d="M141.60 127.0 v-5.0 M141.60 58.0 v5.0 M148.32 127.0 v-2.6 M148.32 58.0 v2.6 M152.25 127.0 v-2.6 M152.25 58.0 v2.6 M155.04 127.0 v-2.6 M155.04 58.0 v2.6 M157.20 127.0 v-2.6 M157.20 58.0 v2.6 M158.97 127.0 v-2.6 M158.97 58.0 v2.6 M160.46 127.0 v-2.6 M160.46 58.0 v2.6 M161.76 127.0 v-2.6 M161.76 58.0 v2.6 M162.90 127.0 v-2.6 M162.90 58.0 v2.6 M163.92 127.0 v-5.0 M163.92 58.0 v5.0 M170.64 127.0 v-2.6 M170.64 58.0 v2.6 M174.57 127.0 v-2.6 M174.57 58.0 v2.6 M177.36 127.0 v-2.6 M177.36 58.0 v2.6 M179.52 127.0 v-2.6 M179.52 58.0 v2.6 M181.29 127.0 v-2.6 M181.29 58.0 v2.6 M182.78 127.0 v-2.6 M182.78 58.0 v2.6 M184.08 127.0 v-2.6 M184.08 58.0 v2.6 M185.22 127.0 v-2.6 M185.22 58.0 v2.6 M186.24 127.0 v-5.0 M186.24 58.0 v5.0 M192.96 127.0 v-2.6 M192.96 58.0 v2.6 M196.89 127.0 v-2.6 M196.89 58.0 v2.6 M199.68 127.0 v-2.6 M199.68 58.0 v2.6 M201.84 127.0 v-2.6 M201.84 58.0 v2.6 M203.61 127.0 v-2.6 M203.61 58.0 v2.6 M205.10 127.0 v-2.6 M205.10 58.0 v2.6 M206.40 127.0 v-2.6 M206.40 58.0 v2.6 M207.54 127.0 v-2.6 M207.54 58.0 v2.6 M208.56 127.0 v-5.0 M208.56 58.0 v5.0 M215.28 127.0 v-2.6 M215.28 58.0 v2.6 M219.21 127.0 v-2.6 M219.21 58.0 v2.6 M222.00 127.0 v-2.6 M222.00 58.0 v2.6 M224.16 127.0 v-2.6 M224.16 58.0 v2.6 M225.93 127.0 v-2.6 M225.93 58.0 v2.6 M227.42 127.0 v-2.6 M227.42 58.0 v2.6 M228.72 127.0 v-2.6 M228.72 58.0 v2.6 M229.86 127.0 v-2.6 M229.86 58.0 v2.6 M230.88 127.0 v-5.0 M230.88 58.0 v5.0 M237.60 127.0 v-2.6 M237.60 58.0 v2.6 M241.53 127.0 v-2.6 M241.53 58.0 v2.6 M244.32 127.0 v-2.6 M244.32 58.0 v2.6 M246.48 127.0 v-2.6 M246.48 58.0 v2.6 M248.25 127.0 v-2.6 M248.25 58.0 v2.6 M249.74 127.0 v-2.6 M249.74 58.0 v2.6 M251.04 127.0 v-2.6 M251.04 58.0 v2.6 M252.18 127.0 v-2.6 M252.18 58.0 v2.6 M253.20 127.0 v-5.0 M253.20 58.0 v5.0 M141.6 125.23 h2.6 M253.2 125.23 h-2.6 M141.6 118.82 h5.0 M253.2 118.82 h-5.0 M141.6 112.41 h2.6 M253.2 112.41 h-2.6 M141.6 105.99 h5.0 M253.2 105.99 h-5.0 M141.6 99.58 h2.6 M253.2 99.58 h-2.6 M141.6 93.16 h5.0 M253.2 93.16 h-5.0 M141.6 86.75 h2.6 M253.2 86.75 h-2.6 M141.6 80.33 h5.0 M253.2 80.33 h-5.0 M141.6 73.92 h2.6 M253.2 73.92 h-2.6 M141.6 67.50 h5.0 M253.2 67.50 h-5.0 M141.6 61.09 h2.6 M253.2 61.09 h-2.6 " fill="none" stroke="#000" stroke-width="1.3"/>
<text x="134.4" y="71.80" font-size="12" text-anchor="end">1.4</text>
<text x="134.4" y="84.63" font-size="12" text-anchor="end">1.2</text>
<text x="134.4" y="97.46" font-size="12" text-anchor="end">1.0</text>
<text x="134.4" y="110.29" font-size="12" text-anchor="end">0.8</text>
<text x="134.4" y="123.12" font-size="12" text-anchor="end">0.6</text>
<text x="141.90" y="145.2" font-size="12" text-anchor="middle">10<tspan dy="-5.8" font-size="9.2">-2</tspan></text>
<text x="164.22" y="145.2" font-size="12" text-anchor="middle">10<tspan dy="-5.8" font-size="9.2">-1</tspan></text>
<text x="186.54" y="145.2" font-size="12" text-anchor="middle">10<tspan dy="-5.8" font-size="9.2">0</tspan></text>
<text x="208.86" y="145.2" font-size="12" text-anchor="middle">10<tspan dy="-5.8" font-size="9.2">1</tspan></text>
<text x="231.18" y="145.2" font-size="12" text-anchor="middle">10<tspan dy="-5.8" font-size="9.2">2</tspan></text>
<text x="253.50" y="145.2" font-size="12" text-anchor="middle">10<tspan dy="-5.8" font-size="9.2">3</tspan></text>
<text x="197.2" y="158.9" font-size="12.5" text-anchor="middle">τ</text>
<text transform="translate(110.0 93.2) rotate(-90)" font-size="12" text-anchor="middle">(Δρ)<tspan dy="-5.8" font-size="9.2">2</tspan></text>
<text x="60" y="43.50" font-size="18" text-anchor="end">1.4</text>
<text x="60" y="77.22" font-size="18" text-anchor="end">1.2</text>
<text x="60" y="110.94" font-size="18" text-anchor="end">1</text>
<text x="60" y="144.66" font-size="18" text-anchor="end">0.8</text>
<text x="60" y="178.38" font-size="18" text-anchor="end">0.6</text>
<text x="60" y="212.10" font-size="18" text-anchor="end">0.4</text>
<text x="72.75" y="229.3" font-size="18" text-anchor="middle">0</text>
<text x="114.51" y="229.3" font-size="18" text-anchor="middle">200</text>
<text x="156.27" y="229.3" font-size="18" text-anchor="middle">400</text>
<text x="198.03" y="229.3" font-size="18" text-anchor="middle">600</text>
<text x="239.79" y="229.3" font-size="18" text-anchor="middle">800</text>
<text x="287.80" y="229.3" font-size="18" text-anchor="middle">0</text>
<text x="330.22" y="229.3" font-size="18" text-anchor="middle">4</text>
<text x="372.64" y="229.3" font-size="18" text-anchor="middle">8</text>
<text x="415.06" y="229.3" font-size="18" text-anchor="middle">12</text>
<text x="457.48" y="229.3" font-size="18" text-anchor="middle">16</text>
<text x="499.90" y="229.3" font-size="18" text-anchor="middle">20</text>
<text x="169.0" y="249.0" font-size="17.5" text-anchor="middle" font-weight="bold">τ</text>
<text x="385.3" y="249.0" font-size="17.5" text-anchor="middle" font-weight="bold">τ</text>
<text transform="translate(26.2 112.5) rotate(-90)" font-size="18" text-anchor="middle">(Δρ)<tspan dy="-9.3" font-size="13.5">2</tspan></text>
<text x="84.0" y="40.7" font-size="19">(a)</text>
<text x="302.6" y="40.7" font-size="19">(b)</text>
<rect x="368.6" y="30.3" width="114.0" height="96.0" fill="#fff" stroke="#000" stroke-width="1.3"/>
<path d="M379.3 42.90 H406.1" fill="none" stroke="#ff0000" stroke-width="1.8"/>
<text x="417.2" y="49.20" font-size="15">R<tspan dy="-7.1" font-size="11.5">6</tspan><tspan dy="7.1" font-size="15"> = 0.00</tspan></text>
<path d="M379.3 57.05 H406.1" fill="none" stroke="#00ff00" stroke-width="1.8" stroke-dasharray="6 3.4"/>
<text x="417.2" y="63.26" font-size="15">R<tspan dy="-7.1" font-size="11.5">6</tspan><tspan dy="7.1" font-size="15"> = 0.02</tspan></text>
<path d="M379.3 71.20 H406.1" fill="none" stroke="#008b00" stroke-width="1.8" stroke-dasharray="3 4.6"/>
<text x="417.2" y="77.32" font-size="15">R<tspan dy="-7.1" font-size="11.5">6</tspan><tspan dy="7.1" font-size="15"> = 0.03</tspan></text>
<path d="M379.3 85.35 H406.1" fill="none" stroke="#ff00ff" stroke-width="1.8" stroke-dasharray="1.5 1.9"/>
<text x="417.2" y="91.38" font-size="15">R<tspan dy="-7.1" font-size="11.5">6</tspan><tspan dy="7.1" font-size="15"> = 0.04</tspan></text>
<path d="M379.3 99.50 H406.1" fill="none" stroke="#000000" stroke-width="1.8" stroke-dasharray="11 2.2 1.5 2.2"/>
<text x="417.2" y="105.44" font-size="15">R<tspan dy="-7.1" font-size="11.5">6</tspan><tspan dy="7.1" font-size="15"> = 0.06</tspan></text>
<path d="M379.3 113.65 H406.1" fill="none" stroke="#0000ff" stroke-width="1.8" stroke-dasharray="5.5 4 1.5 4.4"/>
<text x="417.2" y="119.50" font-size="15">R<tspan dy="-7.1" font-size="11.5">6</tspan><tspan dy="7.1" font-size="15"> = 0.10</tspan></text>
</svg>
</body></html>
